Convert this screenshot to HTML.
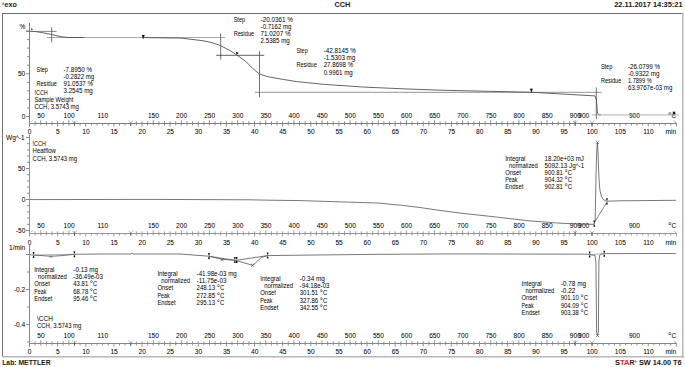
<!DOCTYPE html>
<html><head><meta charset="utf-8"><style>
html,body{margin:0;padding:0;background:#fff;}
svg{display:block;}
text{font-family:"Liberation Sans", sans-serif;}
</style></head><body>
<svg width="685" height="367" viewBox="0 0 685 367">
<rect width="685" height="367" fill="#fff"/>
<text x="1.90" y="5.70" font-size="4.6" text-anchor="start" font-weight="bold" fill="#1a1a1a" textLength="2.20" lengthAdjust="spacingAndGlyphs">^</text>
<text x="4.60" y="7.00" font-size="6.6" text-anchor="start" font-weight="bold" fill="#1a1a1a" textLength="12.40" lengthAdjust="spacingAndGlyphs">exo</text>
<text x="334.40" y="6.70" font-size="6.8" text-anchor="start" font-weight="bold" fill="#1a1a1a" textLength="16.00" lengthAdjust="spacingAndGlyphs">CCH</text>
<text x="614.20" y="6.70" font-size="6.8" text-anchor="start" font-weight="bold" fill="#1a1a1a" textLength="68.40" lengthAdjust="spacingAndGlyphs">22.11.2017 14:35:21</text>
<text x="2.20" y="364.70" font-size="6.8" text-anchor="start" font-weight="bold" fill="#1a1a1a" textLength="48.40" lengthAdjust="spacingAndGlyphs">Lab: METTLER</text>
<text x="614.90" y="364.90" font-size="6.8" text-anchor="start" font-weight="bold" fill="#1a1a1a" textLength="5.00" lengthAdjust="spacingAndGlyphs">S</text>
<text x="619.90" y="364.90" font-size="6.8" text-anchor="start" font-weight="bold" fill="#e8202a" textLength="9.60" lengthAdjust="spacingAndGlyphs">TA</text>
<text x="629.50" y="364.90" font-size="6.8" text-anchor="start" font-weight="bold" fill="#1a1a1a" textLength="5.00" lengthAdjust="spacingAndGlyphs">R</text>
<circle cx="635.6" cy="361.4" r="1.0" fill="#f03a40"/>
<text x="639.00" y="364.90" font-size="6.8" text-anchor="start" font-weight="bold" fill="#1a1a1a" textLength="42.60" lengthAdjust="spacingAndGlyphs">SW 14.00 T6</text>
<line x1="2.00" y1="13.50" x2="683.00" y2="13.50" stroke="#707070" stroke-width="1"/>
<line x1="2.50" y1="13.00" x2="2.50" y2="357.00" stroke="#707070" stroke-width="1"/>
<line x1="682.75" y1="13.00" x2="682.75" y2="358.00" stroke="#b8b8b8" stroke-width="1.5"/>
<line x1="2.00" y1="356.75" x2="684.00" y2="356.75" stroke="#b8b8b8" stroke-width="1.5"/>
<line x1="29.50" y1="23.00" x2="29.50" y2="126.70" stroke="#808080" stroke-width="1"/>
<line x1="29.50" y1="123.50" x2="676.50" y2="123.50" stroke="#808080" stroke-width="1"/>
<line x1="674.00" y1="120.50" x2="676.50" y2="123.50" stroke="#808080" stroke-width="0.8"/>
<line x1="31.00" y1="122.00" x2="33.00" y2="120.50" stroke="#999" stroke-width="0.6"/>
<line x1="35.12" y1="123.50" x2="35.12" y2="125.50" stroke="#808080" stroke-width="0.9"/>
<line x1="40.75" y1="123.50" x2="40.75" y2="125.50" stroke="#808080" stroke-width="0.9"/>
<line x1="46.38" y1="123.50" x2="46.38" y2="125.50" stroke="#808080" stroke-width="0.9"/>
<line x1="52.00" y1="123.50" x2="52.00" y2="125.50" stroke="#808080" stroke-width="0.9"/>
<line x1="57.62" y1="123.50" x2="57.62" y2="126.50" stroke="#808080" stroke-width="0.9"/>
<line x1="63.25" y1="123.50" x2="63.25" y2="125.50" stroke="#808080" stroke-width="0.9"/>
<line x1="68.88" y1="123.50" x2="68.88" y2="125.50" stroke="#808080" stroke-width="0.9"/>
<line x1="74.50" y1="123.50" x2="74.50" y2="125.50" stroke="#808080" stroke-width="0.9"/>
<line x1="80.12" y1="123.50" x2="80.12" y2="125.50" stroke="#808080" stroke-width="0.9"/>
<line x1="85.75" y1="123.50" x2="85.75" y2="126.50" stroke="#808080" stroke-width="0.9"/>
<line x1="91.38" y1="123.50" x2="91.38" y2="125.50" stroke="#808080" stroke-width="0.9"/>
<line x1="97.00" y1="123.50" x2="97.00" y2="125.50" stroke="#808080" stroke-width="0.9"/>
<line x1="102.62" y1="123.50" x2="102.62" y2="125.50" stroke="#808080" stroke-width="0.9"/>
<line x1="108.25" y1="123.50" x2="108.25" y2="125.50" stroke="#808080" stroke-width="0.9"/>
<line x1="113.88" y1="123.50" x2="113.88" y2="126.50" stroke="#808080" stroke-width="0.9"/>
<line x1="119.50" y1="123.50" x2="119.50" y2="125.50" stroke="#808080" stroke-width="0.9"/>
<line x1="125.12" y1="123.50" x2="125.12" y2="125.50" stroke="#808080" stroke-width="0.9"/>
<line x1="130.75" y1="123.50" x2="130.75" y2="125.50" stroke="#808080" stroke-width="0.9"/>
<line x1="136.38" y1="123.50" x2="136.38" y2="125.50" stroke="#808080" stroke-width="0.9"/>
<line x1="142.00" y1="123.50" x2="142.00" y2="126.50" stroke="#808080" stroke-width="0.9"/>
<line x1="147.62" y1="123.50" x2="147.62" y2="125.50" stroke="#808080" stroke-width="0.9"/>
<line x1="153.25" y1="123.50" x2="153.25" y2="125.50" stroke="#808080" stroke-width="0.9"/>
<line x1="158.88" y1="123.50" x2="158.88" y2="125.50" stroke="#808080" stroke-width="0.9"/>
<line x1="164.50" y1="123.50" x2="164.50" y2="125.50" stroke="#808080" stroke-width="0.9"/>
<line x1="170.12" y1="123.50" x2="170.12" y2="126.50" stroke="#808080" stroke-width="0.9"/>
<line x1="175.75" y1="123.50" x2="175.75" y2="125.50" stroke="#808080" stroke-width="0.9"/>
<line x1="181.38" y1="123.50" x2="181.38" y2="125.50" stroke="#808080" stroke-width="0.9"/>
<line x1="187.00" y1="123.50" x2="187.00" y2="125.50" stroke="#808080" stroke-width="0.9"/>
<line x1="192.62" y1="123.50" x2="192.62" y2="125.50" stroke="#808080" stroke-width="0.9"/>
<line x1="198.25" y1="123.50" x2="198.25" y2="126.50" stroke="#808080" stroke-width="0.9"/>
<line x1="203.88" y1="123.50" x2="203.88" y2="125.50" stroke="#808080" stroke-width="0.9"/>
<line x1="209.50" y1="123.50" x2="209.50" y2="125.50" stroke="#808080" stroke-width="0.9"/>
<line x1="215.12" y1="123.50" x2="215.12" y2="125.50" stroke="#808080" stroke-width="0.9"/>
<line x1="220.75" y1="123.50" x2="220.75" y2="125.50" stroke="#808080" stroke-width="0.9"/>
<line x1="226.38" y1="123.50" x2="226.38" y2="126.50" stroke="#808080" stroke-width="0.9"/>
<line x1="232.00" y1="123.50" x2="232.00" y2="125.50" stroke="#808080" stroke-width="0.9"/>
<line x1="237.62" y1="123.50" x2="237.62" y2="125.50" stroke="#808080" stroke-width="0.9"/>
<line x1="243.25" y1="123.50" x2="243.25" y2="125.50" stroke="#808080" stroke-width="0.9"/>
<line x1="248.88" y1="123.50" x2="248.88" y2="125.50" stroke="#808080" stroke-width="0.9"/>
<line x1="254.50" y1="123.50" x2="254.50" y2="126.50" stroke="#808080" stroke-width="0.9"/>
<line x1="260.12" y1="123.50" x2="260.12" y2="125.50" stroke="#808080" stroke-width="0.9"/>
<line x1="265.75" y1="123.50" x2="265.75" y2="125.50" stroke="#808080" stroke-width="0.9"/>
<line x1="271.38" y1="123.50" x2="271.38" y2="125.50" stroke="#808080" stroke-width="0.9"/>
<line x1="277.00" y1="123.50" x2="277.00" y2="125.50" stroke="#808080" stroke-width="0.9"/>
<line x1="282.62" y1="123.50" x2="282.62" y2="126.50" stroke="#808080" stroke-width="0.9"/>
<line x1="288.25" y1="123.50" x2="288.25" y2="125.50" stroke="#808080" stroke-width="0.9"/>
<line x1="293.88" y1="123.50" x2="293.88" y2="125.50" stroke="#808080" stroke-width="0.9"/>
<line x1="299.50" y1="123.50" x2="299.50" y2="125.50" stroke="#808080" stroke-width="0.9"/>
<line x1="305.12" y1="123.50" x2="305.12" y2="125.50" stroke="#808080" stroke-width="0.9"/>
<line x1="310.75" y1="123.50" x2="310.75" y2="126.50" stroke="#808080" stroke-width="0.9"/>
<line x1="316.38" y1="123.50" x2="316.38" y2="125.50" stroke="#808080" stroke-width="0.9"/>
<line x1="322.00" y1="123.50" x2="322.00" y2="125.50" stroke="#808080" stroke-width="0.9"/>
<line x1="327.62" y1="123.50" x2="327.62" y2="125.50" stroke="#808080" stroke-width="0.9"/>
<line x1="333.25" y1="123.50" x2="333.25" y2="125.50" stroke="#808080" stroke-width="0.9"/>
<line x1="338.88" y1="123.50" x2="338.88" y2="126.50" stroke="#808080" stroke-width="0.9"/>
<line x1="344.50" y1="123.50" x2="344.50" y2="125.50" stroke="#808080" stroke-width="0.9"/>
<line x1="350.12" y1="123.50" x2="350.12" y2="125.50" stroke="#808080" stroke-width="0.9"/>
<line x1="355.75" y1="123.50" x2="355.75" y2="125.50" stroke="#808080" stroke-width="0.9"/>
<line x1="361.38" y1="123.50" x2="361.38" y2="125.50" stroke="#808080" stroke-width="0.9"/>
<line x1="367.00" y1="123.50" x2="367.00" y2="126.50" stroke="#808080" stroke-width="0.9"/>
<line x1="372.62" y1="123.50" x2="372.62" y2="125.50" stroke="#808080" stroke-width="0.9"/>
<line x1="378.25" y1="123.50" x2="378.25" y2="125.50" stroke="#808080" stroke-width="0.9"/>
<line x1="383.88" y1="123.50" x2="383.88" y2="125.50" stroke="#808080" stroke-width="0.9"/>
<line x1="389.50" y1="123.50" x2="389.50" y2="125.50" stroke="#808080" stroke-width="0.9"/>
<line x1="395.12" y1="123.50" x2="395.12" y2="126.50" stroke="#808080" stroke-width="0.9"/>
<line x1="400.75" y1="123.50" x2="400.75" y2="125.50" stroke="#808080" stroke-width="0.9"/>
<line x1="406.38" y1="123.50" x2="406.38" y2="125.50" stroke="#808080" stroke-width="0.9"/>
<line x1="412.00" y1="123.50" x2="412.00" y2="125.50" stroke="#808080" stroke-width="0.9"/>
<line x1="417.62" y1="123.50" x2="417.62" y2="125.50" stroke="#808080" stroke-width="0.9"/>
<line x1="423.25" y1="123.50" x2="423.25" y2="126.50" stroke="#808080" stroke-width="0.9"/>
<line x1="428.88" y1="123.50" x2="428.88" y2="125.50" stroke="#808080" stroke-width="0.9"/>
<line x1="434.50" y1="123.50" x2="434.50" y2="125.50" stroke="#808080" stroke-width="0.9"/>
<line x1="440.12" y1="123.50" x2="440.12" y2="125.50" stroke="#808080" stroke-width="0.9"/>
<line x1="445.75" y1="123.50" x2="445.75" y2="125.50" stroke="#808080" stroke-width="0.9"/>
<line x1="451.38" y1="123.50" x2="451.38" y2="126.50" stroke="#808080" stroke-width="0.9"/>
<line x1="457.00" y1="123.50" x2="457.00" y2="125.50" stroke="#808080" stroke-width="0.9"/>
<line x1="462.62" y1="123.50" x2="462.62" y2="125.50" stroke="#808080" stroke-width="0.9"/>
<line x1="468.25" y1="123.50" x2="468.25" y2="125.50" stroke="#808080" stroke-width="0.9"/>
<line x1="473.88" y1="123.50" x2="473.88" y2="125.50" stroke="#808080" stroke-width="0.9"/>
<line x1="479.50" y1="123.50" x2="479.50" y2="126.50" stroke="#808080" stroke-width="0.9"/>
<line x1="485.12" y1="123.50" x2="485.12" y2="125.50" stroke="#808080" stroke-width="0.9"/>
<line x1="490.75" y1="123.50" x2="490.75" y2="125.50" stroke="#808080" stroke-width="0.9"/>
<line x1="496.38" y1="123.50" x2="496.38" y2="125.50" stroke="#808080" stroke-width="0.9"/>
<line x1="502.00" y1="123.50" x2="502.00" y2="125.50" stroke="#808080" stroke-width="0.9"/>
<line x1="507.62" y1="123.50" x2="507.62" y2="126.50" stroke="#808080" stroke-width="0.9"/>
<line x1="513.25" y1="123.50" x2="513.25" y2="125.50" stroke="#808080" stroke-width="0.9"/>
<line x1="518.88" y1="123.50" x2="518.88" y2="125.50" stroke="#808080" stroke-width="0.9"/>
<line x1="524.50" y1="123.50" x2="524.50" y2="125.50" stroke="#808080" stroke-width="0.9"/>
<line x1="530.12" y1="123.50" x2="530.12" y2="125.50" stroke="#808080" stroke-width="0.9"/>
<line x1="535.75" y1="123.50" x2="535.75" y2="126.50" stroke="#808080" stroke-width="0.9"/>
<line x1="541.38" y1="123.50" x2="541.38" y2="125.50" stroke="#808080" stroke-width="0.9"/>
<line x1="547.00" y1="123.50" x2="547.00" y2="125.50" stroke="#808080" stroke-width="0.9"/>
<line x1="552.62" y1="123.50" x2="552.62" y2="125.50" stroke="#808080" stroke-width="0.9"/>
<line x1="558.25" y1="123.50" x2="558.25" y2="125.50" stroke="#808080" stroke-width="0.9"/>
<line x1="563.88" y1="123.50" x2="563.88" y2="126.50" stroke="#808080" stroke-width="0.9"/>
<line x1="569.50" y1="123.50" x2="569.50" y2="125.50" stroke="#808080" stroke-width="0.9"/>
<line x1="575.12" y1="123.50" x2="575.12" y2="125.50" stroke="#808080" stroke-width="0.9"/>
<line x1="580.75" y1="123.50" x2="580.75" y2="125.50" stroke="#808080" stroke-width="0.9"/>
<line x1="586.38" y1="123.50" x2="586.38" y2="125.50" stroke="#808080" stroke-width="0.9"/>
<line x1="592.00" y1="123.50" x2="592.00" y2="126.50" stroke="#808080" stroke-width="0.9"/>
<line x1="597.62" y1="123.50" x2="597.62" y2="125.50" stroke="#808080" stroke-width="0.9"/>
<line x1="603.25" y1="123.50" x2="603.25" y2="125.50" stroke="#808080" stroke-width="0.9"/>
<line x1="608.88" y1="123.50" x2="608.88" y2="125.50" stroke="#808080" stroke-width="0.9"/>
<line x1="614.50" y1="123.50" x2="614.50" y2="125.50" stroke="#808080" stroke-width="0.9"/>
<line x1="620.12" y1="123.50" x2="620.12" y2="126.50" stroke="#808080" stroke-width="0.9"/>
<line x1="625.75" y1="123.50" x2="625.75" y2="125.50" stroke="#808080" stroke-width="0.9"/>
<line x1="631.38" y1="123.50" x2="631.38" y2="125.50" stroke="#808080" stroke-width="0.9"/>
<line x1="637.00" y1="123.50" x2="637.00" y2="125.50" stroke="#808080" stroke-width="0.9"/>
<line x1="642.62" y1="123.50" x2="642.62" y2="125.50" stroke="#808080" stroke-width="0.9"/>
<line x1="648.25" y1="123.50" x2="648.25" y2="126.50" stroke="#808080" stroke-width="0.9"/>
<line x1="653.88" y1="123.50" x2="653.88" y2="125.50" stroke="#808080" stroke-width="0.9"/>
<line x1="659.50" y1="123.50" x2="659.50" y2="125.50" stroke="#808080" stroke-width="0.9"/>
<line x1="665.12" y1="123.50" x2="665.12" y2="125.50" stroke="#808080" stroke-width="0.9"/>
<line x1="670.75" y1="123.50" x2="670.75" y2="125.50" stroke="#808080" stroke-width="0.9"/>
<line x1="676.38" y1="123.50" x2="676.38" y2="126.50" stroke="#808080" stroke-width="0.9"/>
<line x1="35.12" y1="121.30" x2="35.12" y2="123.50" stroke="#808080" stroke-width="0.9"/>
<line x1="40.75" y1="120.30" x2="40.75" y2="123.50" stroke="#808080" stroke-width="0.9"/>
<line x1="46.38" y1="121.30" x2="46.38" y2="123.50" stroke="#808080" stroke-width="0.9"/>
<line x1="52.00" y1="121.30" x2="52.00" y2="123.50" stroke="#808080" stroke-width="0.9"/>
<line x1="57.62" y1="121.30" x2="57.62" y2="123.50" stroke="#808080" stroke-width="0.9"/>
<line x1="63.25" y1="121.30" x2="63.25" y2="123.50" stroke="#808080" stroke-width="0.9"/>
<line x1="68.88" y1="120.30" x2="68.88" y2="123.50" stroke="#808080" stroke-width="0.9"/>
<line x1="74.50" y1="121.30" x2="74.50" y2="123.50" stroke="#808080" stroke-width="0.9"/>
<line x1="136.38" y1="121.30" x2="136.38" y2="123.50" stroke="#808080" stroke-width="0.9"/>
<line x1="142.00" y1="121.30" x2="142.00" y2="123.50" stroke="#808080" stroke-width="0.9"/>
<line x1="147.62" y1="121.30" x2="147.62" y2="123.50" stroke="#808080" stroke-width="0.9"/>
<line x1="153.25" y1="120.30" x2="153.25" y2="123.50" stroke="#808080" stroke-width="0.9"/>
<line x1="158.88" y1="121.30" x2="158.88" y2="123.50" stroke="#808080" stroke-width="0.9"/>
<line x1="164.50" y1="121.30" x2="164.50" y2="123.50" stroke="#808080" stroke-width="0.9"/>
<line x1="170.12" y1="121.30" x2="170.12" y2="123.50" stroke="#808080" stroke-width="0.9"/>
<line x1="175.75" y1="121.30" x2="175.75" y2="123.50" stroke="#808080" stroke-width="0.9"/>
<line x1="181.38" y1="120.30" x2="181.38" y2="123.50" stroke="#808080" stroke-width="0.9"/>
<line x1="187.00" y1="121.30" x2="187.00" y2="123.50" stroke="#808080" stroke-width="0.9"/>
<line x1="192.62" y1="121.30" x2="192.62" y2="123.50" stroke="#808080" stroke-width="0.9"/>
<line x1="198.25" y1="121.30" x2="198.25" y2="123.50" stroke="#808080" stroke-width="0.9"/>
<line x1="203.88" y1="121.30" x2="203.88" y2="123.50" stroke="#808080" stroke-width="0.9"/>
<line x1="209.50" y1="120.30" x2="209.50" y2="123.50" stroke="#808080" stroke-width="0.9"/>
<line x1="215.12" y1="121.30" x2="215.12" y2="123.50" stroke="#808080" stroke-width="0.9"/>
<line x1="220.75" y1="121.30" x2="220.75" y2="123.50" stroke="#808080" stroke-width="0.9"/>
<line x1="226.38" y1="121.30" x2="226.38" y2="123.50" stroke="#808080" stroke-width="0.9"/>
<line x1="232.00" y1="121.30" x2="232.00" y2="123.50" stroke="#808080" stroke-width="0.9"/>
<line x1="237.62" y1="120.30" x2="237.62" y2="123.50" stroke="#808080" stroke-width="0.9"/>
<line x1="243.25" y1="121.30" x2="243.25" y2="123.50" stroke="#808080" stroke-width="0.9"/>
<line x1="248.88" y1="121.30" x2="248.88" y2="123.50" stroke="#808080" stroke-width="0.9"/>
<line x1="254.50" y1="121.30" x2="254.50" y2="123.50" stroke="#808080" stroke-width="0.9"/>
<line x1="260.12" y1="121.30" x2="260.12" y2="123.50" stroke="#808080" stroke-width="0.9"/>
<line x1="265.75" y1="120.30" x2="265.75" y2="123.50" stroke="#808080" stroke-width="0.9"/>
<line x1="271.38" y1="121.30" x2="271.38" y2="123.50" stroke="#808080" stroke-width="0.9"/>
<line x1="277.00" y1="121.30" x2="277.00" y2="123.50" stroke="#808080" stroke-width="0.9"/>
<line x1="282.62" y1="121.30" x2="282.62" y2="123.50" stroke="#808080" stroke-width="0.9"/>
<line x1="288.25" y1="121.30" x2="288.25" y2="123.50" stroke="#808080" stroke-width="0.9"/>
<line x1="293.88" y1="120.30" x2="293.88" y2="123.50" stroke="#808080" stroke-width="0.9"/>
<line x1="299.50" y1="121.30" x2="299.50" y2="123.50" stroke="#808080" stroke-width="0.9"/>
<line x1="305.12" y1="121.30" x2="305.12" y2="123.50" stroke="#808080" stroke-width="0.9"/>
<line x1="310.75" y1="121.30" x2="310.75" y2="123.50" stroke="#808080" stroke-width="0.9"/>
<line x1="316.38" y1="121.30" x2="316.38" y2="123.50" stroke="#808080" stroke-width="0.9"/>
<line x1="322.00" y1="120.30" x2="322.00" y2="123.50" stroke="#808080" stroke-width="0.9"/>
<line x1="327.62" y1="121.30" x2="327.62" y2="123.50" stroke="#808080" stroke-width="0.9"/>
<line x1="333.25" y1="121.30" x2="333.25" y2="123.50" stroke="#808080" stroke-width="0.9"/>
<line x1="338.88" y1="121.30" x2="338.88" y2="123.50" stroke="#808080" stroke-width="0.9"/>
<line x1="344.50" y1="121.30" x2="344.50" y2="123.50" stroke="#808080" stroke-width="0.9"/>
<line x1="350.12" y1="120.30" x2="350.12" y2="123.50" stroke="#808080" stroke-width="0.9"/>
<line x1="355.75" y1="121.30" x2="355.75" y2="123.50" stroke="#808080" stroke-width="0.9"/>
<line x1="361.38" y1="121.30" x2="361.38" y2="123.50" stroke="#808080" stroke-width="0.9"/>
<line x1="367.00" y1="121.30" x2="367.00" y2="123.50" stroke="#808080" stroke-width="0.9"/>
<line x1="372.62" y1="121.30" x2="372.62" y2="123.50" stroke="#808080" stroke-width="0.9"/>
<line x1="378.25" y1="120.30" x2="378.25" y2="123.50" stroke="#808080" stroke-width="0.9"/>
<line x1="383.88" y1="121.30" x2="383.88" y2="123.50" stroke="#808080" stroke-width="0.9"/>
<line x1="389.50" y1="121.30" x2="389.50" y2="123.50" stroke="#808080" stroke-width="0.9"/>
<line x1="395.12" y1="121.30" x2="395.12" y2="123.50" stroke="#808080" stroke-width="0.9"/>
<line x1="400.75" y1="121.30" x2="400.75" y2="123.50" stroke="#808080" stroke-width="0.9"/>
<line x1="406.38" y1="120.30" x2="406.38" y2="123.50" stroke="#808080" stroke-width="0.9"/>
<line x1="412.00" y1="121.30" x2="412.00" y2="123.50" stroke="#808080" stroke-width="0.9"/>
<line x1="417.62" y1="121.30" x2="417.62" y2="123.50" stroke="#808080" stroke-width="0.9"/>
<line x1="423.25" y1="121.30" x2="423.25" y2="123.50" stroke="#808080" stroke-width="0.9"/>
<line x1="428.88" y1="121.30" x2="428.88" y2="123.50" stroke="#808080" stroke-width="0.9"/>
<line x1="434.50" y1="120.30" x2="434.50" y2="123.50" stroke="#808080" stroke-width="0.9"/>
<line x1="440.12" y1="121.30" x2="440.12" y2="123.50" stroke="#808080" stroke-width="0.9"/>
<line x1="445.75" y1="121.30" x2="445.75" y2="123.50" stroke="#808080" stroke-width="0.9"/>
<line x1="451.38" y1="121.30" x2="451.38" y2="123.50" stroke="#808080" stroke-width="0.9"/>
<line x1="457.00" y1="121.30" x2="457.00" y2="123.50" stroke="#808080" stroke-width="0.9"/>
<line x1="462.62" y1="120.30" x2="462.62" y2="123.50" stroke="#808080" stroke-width="0.9"/>
<line x1="468.25" y1="121.30" x2="468.25" y2="123.50" stroke="#808080" stroke-width="0.9"/>
<line x1="473.88" y1="121.30" x2="473.88" y2="123.50" stroke="#808080" stroke-width="0.9"/>
<line x1="479.50" y1="121.30" x2="479.50" y2="123.50" stroke="#808080" stroke-width="0.9"/>
<line x1="485.12" y1="121.30" x2="485.12" y2="123.50" stroke="#808080" stroke-width="0.9"/>
<line x1="490.75" y1="120.30" x2="490.75" y2="123.50" stroke="#808080" stroke-width="0.9"/>
<line x1="496.38" y1="121.30" x2="496.38" y2="123.50" stroke="#808080" stroke-width="0.9"/>
<line x1="502.00" y1="121.30" x2="502.00" y2="123.50" stroke="#808080" stroke-width="0.9"/>
<line x1="507.62" y1="121.30" x2="507.62" y2="123.50" stroke="#808080" stroke-width="0.9"/>
<line x1="513.25" y1="121.30" x2="513.25" y2="123.50" stroke="#808080" stroke-width="0.9"/>
<line x1="518.88" y1="120.30" x2="518.88" y2="123.50" stroke="#808080" stroke-width="0.9"/>
<line x1="524.50" y1="121.30" x2="524.50" y2="123.50" stroke="#808080" stroke-width="0.9"/>
<line x1="530.12" y1="121.30" x2="530.12" y2="123.50" stroke="#808080" stroke-width="0.9"/>
<line x1="535.75" y1="121.30" x2="535.75" y2="123.50" stroke="#808080" stroke-width="0.9"/>
<line x1="541.38" y1="121.30" x2="541.38" y2="123.50" stroke="#808080" stroke-width="0.9"/>
<line x1="547.00" y1="120.30" x2="547.00" y2="123.50" stroke="#808080" stroke-width="0.9"/>
<line x1="552.62" y1="121.30" x2="552.62" y2="123.50" stroke="#808080" stroke-width="0.9"/>
<line x1="558.25" y1="121.30" x2="558.25" y2="123.50" stroke="#808080" stroke-width="0.9"/>
<line x1="563.88" y1="121.30" x2="563.88" y2="123.50" stroke="#808080" stroke-width="0.9"/>
<line x1="569.50" y1="121.30" x2="569.50" y2="123.50" stroke="#808080" stroke-width="0.9"/>
<line x1="575.12" y1="120.30" x2="575.12" y2="123.50" stroke="#808080" stroke-width="0.9"/>
<polyline points="72.10,120.60 74.50,122.90 76.90,120.60" fill="none" stroke="#888" stroke-width="0.6" stroke-linejoin="round"/>
<line x1="74.50" y1="122.50" x2="74.50" y2="125.80" stroke="#555" stroke-width="0.9"/>
<polyline points="128.35,120.60 130.75,122.90 133.15,120.60" fill="none" stroke="#888" stroke-width="0.6" stroke-linejoin="round"/>
<line x1="130.75" y1="122.50" x2="130.75" y2="125.80" stroke="#555" stroke-width="0.9"/>
<polyline points="572.73,120.60 575.12,122.90 577.52,120.60" fill="none" stroke="#888" stroke-width="0.6" stroke-linejoin="round"/>
<line x1="575.12" y1="122.50" x2="575.12" y2="125.80" stroke="#555" stroke-width="0.9"/>
<polyline points="589.60,120.60 592.00,122.90 594.40,120.60" fill="none" stroke="#888" stroke-width="0.6" stroke-linejoin="round"/>
<line x1="592.00" y1="122.50" x2="592.00" y2="125.80" stroke="#555" stroke-width="0.9"/>
<text x="40.95" y="118.00" font-size="6.6" text-anchor="middle" fill="#000" stroke="#000" stroke-width="0.03">50</text>
<text x="69.08" y="118.00" font-size="6.6" text-anchor="middle" fill="#000" stroke="#000" stroke-width="0.03">100</text>
<text x="102.83" y="118.00" font-size="6.6" text-anchor="middle" fill="#000" stroke="#000" stroke-width="0.03">110</text>
<text x="153.45" y="118.00" font-size="6.6" text-anchor="middle" fill="#000" stroke="#000" stroke-width="0.03">150</text>
<text x="181.57" y="118.00" font-size="6.6" text-anchor="middle" fill="#000" stroke="#000" stroke-width="0.03">200</text>
<text x="209.70" y="118.00" font-size="6.6" text-anchor="middle" fill="#000" stroke="#000" stroke-width="0.03">250</text>
<text x="237.82" y="118.00" font-size="6.6" text-anchor="middle" fill="#000" stroke="#000" stroke-width="0.03">300</text>
<text x="265.95" y="118.00" font-size="6.6" text-anchor="middle" fill="#000" stroke="#000" stroke-width="0.03">350</text>
<text x="294.07" y="118.00" font-size="6.6" text-anchor="middle" fill="#000" stroke="#000" stroke-width="0.03">400</text>
<text x="322.20" y="118.00" font-size="6.6" text-anchor="middle" fill="#000" stroke="#000" stroke-width="0.03">450</text>
<text x="350.32" y="118.00" font-size="6.6" text-anchor="middle" fill="#000" stroke="#000" stroke-width="0.03">500</text>
<text x="378.45" y="118.00" font-size="6.6" text-anchor="middle" fill="#000" stroke="#000" stroke-width="0.03">550</text>
<text x="406.57" y="118.00" font-size="6.6" text-anchor="middle" fill="#000" stroke="#000" stroke-width="0.03">600</text>
<text x="434.70" y="118.00" font-size="6.6" text-anchor="middle" fill="#000" stroke="#000" stroke-width="0.03">650</text>
<text x="462.82" y="118.00" font-size="6.6" text-anchor="middle" fill="#000" stroke="#000" stroke-width="0.03">700</text>
<text x="490.95" y="118.00" font-size="6.6" text-anchor="middle" fill="#000" stroke="#000" stroke-width="0.03">750</text>
<text x="519.08" y="118.00" font-size="6.6" text-anchor="middle" fill="#000" stroke="#000" stroke-width="0.03">800</text>
<text x="547.20" y="118.00" font-size="6.6" text-anchor="middle" fill="#000" stroke="#000" stroke-width="0.03">850</text>
<text x="575.33" y="118.00" font-size="6.6" text-anchor="middle" fill="#000" stroke="#000" stroke-width="0.03">900</text>
<text x="583.76" y="118.00" font-size="6.6" text-anchor="middle" fill="#000" stroke="#000" stroke-width="0.03">900</text>
<text x="634.39" y="118.00" font-size="6.6" text-anchor="middle" fill="#000" stroke="#000" stroke-width="0.03">900</text>
<text x="676.20" y="118.00" font-size="6.6" text-anchor="end" fill="#000" stroke="#000" stroke-width="0.03"><tspan font-size="8.6" dy="1.3">°</tspan><tspan dy="-1.3">C</tspan></text>
<text x="29.70" y="134.00" font-size="6.6" text-anchor="middle" fill="#000" stroke="#000" stroke-width="0.03">0</text>
<text x="57.83" y="134.00" font-size="6.6" text-anchor="middle" fill="#000" stroke="#000" stroke-width="0.03">5</text>
<text x="85.95" y="134.00" font-size="6.6" text-anchor="middle" fill="#000" stroke="#000" stroke-width="0.03">10</text>
<text x="114.08" y="134.00" font-size="6.6" text-anchor="middle" fill="#000" stroke="#000" stroke-width="0.03">15</text>
<text x="142.20" y="134.00" font-size="6.6" text-anchor="middle" fill="#000" stroke="#000" stroke-width="0.03">20</text>
<text x="170.32" y="134.00" font-size="6.6" text-anchor="middle" fill="#000" stroke="#000" stroke-width="0.03">25</text>
<text x="198.45" y="134.00" font-size="6.6" text-anchor="middle" fill="#000" stroke="#000" stroke-width="0.03">30</text>
<text x="226.57" y="134.00" font-size="6.6" text-anchor="middle" fill="#000" stroke="#000" stroke-width="0.03">35</text>
<text x="254.70" y="134.00" font-size="6.6" text-anchor="middle" fill="#000" stroke="#000" stroke-width="0.03">40</text>
<text x="282.82" y="134.00" font-size="6.6" text-anchor="middle" fill="#000" stroke="#000" stroke-width="0.03">45</text>
<text x="310.95" y="134.00" font-size="6.6" text-anchor="middle" fill="#000" stroke="#000" stroke-width="0.03">50</text>
<text x="339.07" y="134.00" font-size="6.6" text-anchor="middle" fill="#000" stroke="#000" stroke-width="0.03">55</text>
<text x="367.20" y="134.00" font-size="6.6" text-anchor="middle" fill="#000" stroke="#000" stroke-width="0.03">60</text>
<text x="395.32" y="134.00" font-size="6.6" text-anchor="middle" fill="#000" stroke="#000" stroke-width="0.03">65</text>
<text x="423.45" y="134.00" font-size="6.6" text-anchor="middle" fill="#000" stroke="#000" stroke-width="0.03">70</text>
<text x="451.57" y="134.00" font-size="6.6" text-anchor="middle" fill="#000" stroke="#000" stroke-width="0.03">75</text>
<text x="479.70" y="134.00" font-size="6.6" text-anchor="middle" fill="#000" stroke="#000" stroke-width="0.03">80</text>
<text x="507.82" y="134.00" font-size="6.6" text-anchor="middle" fill="#000" stroke="#000" stroke-width="0.03">85</text>
<text x="535.95" y="134.00" font-size="6.6" text-anchor="middle" fill="#000" stroke="#000" stroke-width="0.03">90</text>
<text x="564.08" y="134.00" font-size="6.6" text-anchor="middle" fill="#000" stroke="#000" stroke-width="0.03">95</text>
<text x="592.20" y="134.00" font-size="6.6" text-anchor="middle" fill="#000" stroke="#000" stroke-width="0.03">100</text>
<text x="620.33" y="134.00" font-size="6.6" text-anchor="middle" fill="#000" stroke="#000" stroke-width="0.03">105</text>
<text x="648.45" y="134.00" font-size="6.6" text-anchor="middle" fill="#000" stroke="#000" stroke-width="0.03">110</text>
<text x="676.20" y="134.00" font-size="6.6" text-anchor="end" fill="#000" stroke="#000" stroke-width="0.03">min</text>
<line x1="29.50" y1="133.50" x2="29.50" y2="236.70" stroke="#959595" stroke-width="1"/>
<line x1="29.50" y1="233.50" x2="676.50" y2="233.50" stroke="#959595" stroke-width="1"/>
<line x1="674.00" y1="230.50" x2="676.50" y2="233.50" stroke="#959595" stroke-width="0.8"/>
<line x1="31.00" y1="232.00" x2="33.00" y2="230.50" stroke="#999" stroke-width="0.6"/>
<line x1="35.12" y1="233.50" x2="35.12" y2="235.50" stroke="#959595" stroke-width="0.9"/>
<line x1="40.75" y1="233.50" x2="40.75" y2="235.50" stroke="#959595" stroke-width="0.9"/>
<line x1="46.38" y1="233.50" x2="46.38" y2="235.50" stroke="#959595" stroke-width="0.9"/>
<line x1="52.00" y1="233.50" x2="52.00" y2="235.50" stroke="#959595" stroke-width="0.9"/>
<line x1="57.62" y1="233.50" x2="57.62" y2="236.50" stroke="#959595" stroke-width="0.9"/>
<line x1="63.25" y1="233.50" x2="63.25" y2="235.50" stroke="#959595" stroke-width="0.9"/>
<line x1="68.88" y1="233.50" x2="68.88" y2="235.50" stroke="#959595" stroke-width="0.9"/>
<line x1="74.50" y1="233.50" x2="74.50" y2="235.50" stroke="#959595" stroke-width="0.9"/>
<line x1="80.12" y1="233.50" x2="80.12" y2="235.50" stroke="#959595" stroke-width="0.9"/>
<line x1="85.75" y1="233.50" x2="85.75" y2="236.50" stroke="#959595" stroke-width="0.9"/>
<line x1="91.38" y1="233.50" x2="91.38" y2="235.50" stroke="#959595" stroke-width="0.9"/>
<line x1="97.00" y1="233.50" x2="97.00" y2="235.50" stroke="#959595" stroke-width="0.9"/>
<line x1="102.62" y1="233.50" x2="102.62" y2="235.50" stroke="#959595" stroke-width="0.9"/>
<line x1="108.25" y1="233.50" x2="108.25" y2="235.50" stroke="#959595" stroke-width="0.9"/>
<line x1="113.88" y1="233.50" x2="113.88" y2="236.50" stroke="#959595" stroke-width="0.9"/>
<line x1="119.50" y1="233.50" x2="119.50" y2="235.50" stroke="#959595" stroke-width="0.9"/>
<line x1="125.12" y1="233.50" x2="125.12" y2="235.50" stroke="#959595" stroke-width="0.9"/>
<line x1="130.75" y1="233.50" x2="130.75" y2="235.50" stroke="#959595" stroke-width="0.9"/>
<line x1="136.38" y1="233.50" x2="136.38" y2="235.50" stroke="#959595" stroke-width="0.9"/>
<line x1="142.00" y1="233.50" x2="142.00" y2="236.50" stroke="#959595" stroke-width="0.9"/>
<line x1="147.62" y1="233.50" x2="147.62" y2="235.50" stroke="#959595" stroke-width="0.9"/>
<line x1="153.25" y1="233.50" x2="153.25" y2="235.50" stroke="#959595" stroke-width="0.9"/>
<line x1="158.88" y1="233.50" x2="158.88" y2="235.50" stroke="#959595" stroke-width="0.9"/>
<line x1="164.50" y1="233.50" x2="164.50" y2="235.50" stroke="#959595" stroke-width="0.9"/>
<line x1="170.12" y1="233.50" x2="170.12" y2="236.50" stroke="#959595" stroke-width="0.9"/>
<line x1="175.75" y1="233.50" x2="175.75" y2="235.50" stroke="#959595" stroke-width="0.9"/>
<line x1="181.38" y1="233.50" x2="181.38" y2="235.50" stroke="#959595" stroke-width="0.9"/>
<line x1="187.00" y1="233.50" x2="187.00" y2="235.50" stroke="#959595" stroke-width="0.9"/>
<line x1="192.62" y1="233.50" x2="192.62" y2="235.50" stroke="#959595" stroke-width="0.9"/>
<line x1="198.25" y1="233.50" x2="198.25" y2="236.50" stroke="#959595" stroke-width="0.9"/>
<line x1="203.88" y1="233.50" x2="203.88" y2="235.50" stroke="#959595" stroke-width="0.9"/>
<line x1="209.50" y1="233.50" x2="209.50" y2="235.50" stroke="#959595" stroke-width="0.9"/>
<line x1="215.12" y1="233.50" x2="215.12" y2="235.50" stroke="#959595" stroke-width="0.9"/>
<line x1="220.75" y1="233.50" x2="220.75" y2="235.50" stroke="#959595" stroke-width="0.9"/>
<line x1="226.38" y1="233.50" x2="226.38" y2="236.50" stroke="#959595" stroke-width="0.9"/>
<line x1="232.00" y1="233.50" x2="232.00" y2="235.50" stroke="#959595" stroke-width="0.9"/>
<line x1="237.62" y1="233.50" x2="237.62" y2="235.50" stroke="#959595" stroke-width="0.9"/>
<line x1="243.25" y1="233.50" x2="243.25" y2="235.50" stroke="#959595" stroke-width="0.9"/>
<line x1="248.88" y1="233.50" x2="248.88" y2="235.50" stroke="#959595" stroke-width="0.9"/>
<line x1="254.50" y1="233.50" x2="254.50" y2="236.50" stroke="#959595" stroke-width="0.9"/>
<line x1="260.12" y1="233.50" x2="260.12" y2="235.50" stroke="#959595" stroke-width="0.9"/>
<line x1="265.75" y1="233.50" x2="265.75" y2="235.50" stroke="#959595" stroke-width="0.9"/>
<line x1="271.38" y1="233.50" x2="271.38" y2="235.50" stroke="#959595" stroke-width="0.9"/>
<line x1="277.00" y1="233.50" x2="277.00" y2="235.50" stroke="#959595" stroke-width="0.9"/>
<line x1="282.62" y1="233.50" x2="282.62" y2="236.50" stroke="#959595" stroke-width="0.9"/>
<line x1="288.25" y1="233.50" x2="288.25" y2="235.50" stroke="#959595" stroke-width="0.9"/>
<line x1="293.88" y1="233.50" x2="293.88" y2="235.50" stroke="#959595" stroke-width="0.9"/>
<line x1="299.50" y1="233.50" x2="299.50" y2="235.50" stroke="#959595" stroke-width="0.9"/>
<line x1="305.12" y1="233.50" x2="305.12" y2="235.50" stroke="#959595" stroke-width="0.9"/>
<line x1="310.75" y1="233.50" x2="310.75" y2="236.50" stroke="#959595" stroke-width="0.9"/>
<line x1="316.38" y1="233.50" x2="316.38" y2="235.50" stroke="#959595" stroke-width="0.9"/>
<line x1="322.00" y1="233.50" x2="322.00" y2="235.50" stroke="#959595" stroke-width="0.9"/>
<line x1="327.62" y1="233.50" x2="327.62" y2="235.50" stroke="#959595" stroke-width="0.9"/>
<line x1="333.25" y1="233.50" x2="333.25" y2="235.50" stroke="#959595" stroke-width="0.9"/>
<line x1="338.88" y1="233.50" x2="338.88" y2="236.50" stroke="#959595" stroke-width="0.9"/>
<line x1="344.50" y1="233.50" x2="344.50" y2="235.50" stroke="#959595" stroke-width="0.9"/>
<line x1="350.12" y1="233.50" x2="350.12" y2="235.50" stroke="#959595" stroke-width="0.9"/>
<line x1="355.75" y1="233.50" x2="355.75" y2="235.50" stroke="#959595" stroke-width="0.9"/>
<line x1="361.38" y1="233.50" x2="361.38" y2="235.50" stroke="#959595" stroke-width="0.9"/>
<line x1="367.00" y1="233.50" x2="367.00" y2="236.50" stroke="#959595" stroke-width="0.9"/>
<line x1="372.62" y1="233.50" x2="372.62" y2="235.50" stroke="#959595" stroke-width="0.9"/>
<line x1="378.25" y1="233.50" x2="378.25" y2="235.50" stroke="#959595" stroke-width="0.9"/>
<line x1="383.88" y1="233.50" x2="383.88" y2="235.50" stroke="#959595" stroke-width="0.9"/>
<line x1="389.50" y1="233.50" x2="389.50" y2="235.50" stroke="#959595" stroke-width="0.9"/>
<line x1="395.12" y1="233.50" x2="395.12" y2="236.50" stroke="#959595" stroke-width="0.9"/>
<line x1="400.75" y1="233.50" x2="400.75" y2="235.50" stroke="#959595" stroke-width="0.9"/>
<line x1="406.38" y1="233.50" x2="406.38" y2="235.50" stroke="#959595" stroke-width="0.9"/>
<line x1="412.00" y1="233.50" x2="412.00" y2="235.50" stroke="#959595" stroke-width="0.9"/>
<line x1="417.62" y1="233.50" x2="417.62" y2="235.50" stroke="#959595" stroke-width="0.9"/>
<line x1="423.25" y1="233.50" x2="423.25" y2="236.50" stroke="#959595" stroke-width="0.9"/>
<line x1="428.88" y1="233.50" x2="428.88" y2="235.50" stroke="#959595" stroke-width="0.9"/>
<line x1="434.50" y1="233.50" x2="434.50" y2="235.50" stroke="#959595" stroke-width="0.9"/>
<line x1="440.12" y1="233.50" x2="440.12" y2="235.50" stroke="#959595" stroke-width="0.9"/>
<line x1="445.75" y1="233.50" x2="445.75" y2="235.50" stroke="#959595" stroke-width="0.9"/>
<line x1="451.38" y1="233.50" x2="451.38" y2="236.50" stroke="#959595" stroke-width="0.9"/>
<line x1="457.00" y1="233.50" x2="457.00" y2="235.50" stroke="#959595" stroke-width="0.9"/>
<line x1="462.62" y1="233.50" x2="462.62" y2="235.50" stroke="#959595" stroke-width="0.9"/>
<line x1="468.25" y1="233.50" x2="468.25" y2="235.50" stroke="#959595" stroke-width="0.9"/>
<line x1="473.88" y1="233.50" x2="473.88" y2="235.50" stroke="#959595" stroke-width="0.9"/>
<line x1="479.50" y1="233.50" x2="479.50" y2="236.50" stroke="#959595" stroke-width="0.9"/>
<line x1="485.12" y1="233.50" x2="485.12" y2="235.50" stroke="#959595" stroke-width="0.9"/>
<line x1="490.75" y1="233.50" x2="490.75" y2="235.50" stroke="#959595" stroke-width="0.9"/>
<line x1="496.38" y1="233.50" x2="496.38" y2="235.50" stroke="#959595" stroke-width="0.9"/>
<line x1="502.00" y1="233.50" x2="502.00" y2="235.50" stroke="#959595" stroke-width="0.9"/>
<line x1="507.62" y1="233.50" x2="507.62" y2="236.50" stroke="#959595" stroke-width="0.9"/>
<line x1="513.25" y1="233.50" x2="513.25" y2="235.50" stroke="#959595" stroke-width="0.9"/>
<line x1="518.88" y1="233.50" x2="518.88" y2="235.50" stroke="#959595" stroke-width="0.9"/>
<line x1="524.50" y1="233.50" x2="524.50" y2="235.50" stroke="#959595" stroke-width="0.9"/>
<line x1="530.12" y1="233.50" x2="530.12" y2="235.50" stroke="#959595" stroke-width="0.9"/>
<line x1="535.75" y1="233.50" x2="535.75" y2="236.50" stroke="#959595" stroke-width="0.9"/>
<line x1="541.38" y1="233.50" x2="541.38" y2="235.50" stroke="#959595" stroke-width="0.9"/>
<line x1="547.00" y1="233.50" x2="547.00" y2="235.50" stroke="#959595" stroke-width="0.9"/>
<line x1="552.62" y1="233.50" x2="552.62" y2="235.50" stroke="#959595" stroke-width="0.9"/>
<line x1="558.25" y1="233.50" x2="558.25" y2="235.50" stroke="#959595" stroke-width="0.9"/>
<line x1="563.88" y1="233.50" x2="563.88" y2="236.50" stroke="#959595" stroke-width="0.9"/>
<line x1="569.50" y1="233.50" x2="569.50" y2="235.50" stroke="#959595" stroke-width="0.9"/>
<line x1="575.12" y1="233.50" x2="575.12" y2="235.50" stroke="#959595" stroke-width="0.9"/>
<line x1="580.75" y1="233.50" x2="580.75" y2="235.50" stroke="#959595" stroke-width="0.9"/>
<line x1="586.38" y1="233.50" x2="586.38" y2="235.50" stroke="#959595" stroke-width="0.9"/>
<line x1="592.00" y1="233.50" x2="592.00" y2="236.50" stroke="#959595" stroke-width="0.9"/>
<line x1="597.62" y1="233.50" x2="597.62" y2="235.50" stroke="#959595" stroke-width="0.9"/>
<line x1="603.25" y1="233.50" x2="603.25" y2="235.50" stroke="#959595" stroke-width="0.9"/>
<line x1="608.88" y1="233.50" x2="608.88" y2="235.50" stroke="#959595" stroke-width="0.9"/>
<line x1="614.50" y1="233.50" x2="614.50" y2="235.50" stroke="#959595" stroke-width="0.9"/>
<line x1="620.12" y1="233.50" x2="620.12" y2="236.50" stroke="#959595" stroke-width="0.9"/>
<line x1="625.75" y1="233.50" x2="625.75" y2="235.50" stroke="#959595" stroke-width="0.9"/>
<line x1="631.38" y1="233.50" x2="631.38" y2="235.50" stroke="#959595" stroke-width="0.9"/>
<line x1="637.00" y1="233.50" x2="637.00" y2="235.50" stroke="#959595" stroke-width="0.9"/>
<line x1="642.62" y1="233.50" x2="642.62" y2="235.50" stroke="#959595" stroke-width="0.9"/>
<line x1="648.25" y1="233.50" x2="648.25" y2="236.50" stroke="#959595" stroke-width="0.9"/>
<line x1="653.88" y1="233.50" x2="653.88" y2="235.50" stroke="#959595" stroke-width="0.9"/>
<line x1="659.50" y1="233.50" x2="659.50" y2="235.50" stroke="#959595" stroke-width="0.9"/>
<line x1="665.12" y1="233.50" x2="665.12" y2="235.50" stroke="#959595" stroke-width="0.9"/>
<line x1="670.75" y1="233.50" x2="670.75" y2="235.50" stroke="#959595" stroke-width="0.9"/>
<line x1="676.38" y1="233.50" x2="676.38" y2="236.50" stroke="#959595" stroke-width="0.9"/>
<line x1="35.12" y1="231.30" x2="35.12" y2="233.50" stroke="#959595" stroke-width="0.9"/>
<line x1="40.75" y1="230.30" x2="40.75" y2="233.50" stroke="#959595" stroke-width="0.9"/>
<line x1="46.38" y1="231.30" x2="46.38" y2="233.50" stroke="#959595" stroke-width="0.9"/>
<line x1="52.00" y1="231.30" x2="52.00" y2="233.50" stroke="#959595" stroke-width="0.9"/>
<line x1="57.62" y1="231.30" x2="57.62" y2="233.50" stroke="#959595" stroke-width="0.9"/>
<line x1="63.25" y1="231.30" x2="63.25" y2="233.50" stroke="#959595" stroke-width="0.9"/>
<line x1="68.88" y1="230.30" x2="68.88" y2="233.50" stroke="#959595" stroke-width="0.9"/>
<line x1="74.50" y1="231.30" x2="74.50" y2="233.50" stroke="#959595" stroke-width="0.9"/>
<line x1="136.38" y1="231.30" x2="136.38" y2="233.50" stroke="#959595" stroke-width="0.9"/>
<line x1="142.00" y1="231.30" x2="142.00" y2="233.50" stroke="#959595" stroke-width="0.9"/>
<line x1="147.62" y1="231.30" x2="147.62" y2="233.50" stroke="#959595" stroke-width="0.9"/>
<line x1="153.25" y1="230.30" x2="153.25" y2="233.50" stroke="#959595" stroke-width="0.9"/>
<line x1="158.88" y1="231.30" x2="158.88" y2="233.50" stroke="#959595" stroke-width="0.9"/>
<line x1="164.50" y1="231.30" x2="164.50" y2="233.50" stroke="#959595" stroke-width="0.9"/>
<line x1="170.12" y1="231.30" x2="170.12" y2="233.50" stroke="#959595" stroke-width="0.9"/>
<line x1="175.75" y1="231.30" x2="175.75" y2="233.50" stroke="#959595" stroke-width="0.9"/>
<line x1="181.38" y1="230.30" x2="181.38" y2="233.50" stroke="#959595" stroke-width="0.9"/>
<line x1="187.00" y1="231.30" x2="187.00" y2="233.50" stroke="#959595" stroke-width="0.9"/>
<line x1="192.62" y1="231.30" x2="192.62" y2="233.50" stroke="#959595" stroke-width="0.9"/>
<line x1="198.25" y1="231.30" x2="198.25" y2="233.50" stroke="#959595" stroke-width="0.9"/>
<line x1="203.88" y1="231.30" x2="203.88" y2="233.50" stroke="#959595" stroke-width="0.9"/>
<line x1="209.50" y1="230.30" x2="209.50" y2="233.50" stroke="#959595" stroke-width="0.9"/>
<line x1="215.12" y1="231.30" x2="215.12" y2="233.50" stroke="#959595" stroke-width="0.9"/>
<line x1="220.75" y1="231.30" x2="220.75" y2="233.50" stroke="#959595" stroke-width="0.9"/>
<line x1="226.38" y1="231.30" x2="226.38" y2="233.50" stroke="#959595" stroke-width="0.9"/>
<line x1="232.00" y1="231.30" x2="232.00" y2="233.50" stroke="#959595" stroke-width="0.9"/>
<line x1="237.62" y1="230.30" x2="237.62" y2="233.50" stroke="#959595" stroke-width="0.9"/>
<line x1="243.25" y1="231.30" x2="243.25" y2="233.50" stroke="#959595" stroke-width="0.9"/>
<line x1="248.88" y1="231.30" x2="248.88" y2="233.50" stroke="#959595" stroke-width="0.9"/>
<line x1="254.50" y1="231.30" x2="254.50" y2="233.50" stroke="#959595" stroke-width="0.9"/>
<line x1="260.12" y1="231.30" x2="260.12" y2="233.50" stroke="#959595" stroke-width="0.9"/>
<line x1="265.75" y1="230.30" x2="265.75" y2="233.50" stroke="#959595" stroke-width="0.9"/>
<line x1="271.38" y1="231.30" x2="271.38" y2="233.50" stroke="#959595" stroke-width="0.9"/>
<line x1="277.00" y1="231.30" x2="277.00" y2="233.50" stroke="#959595" stroke-width="0.9"/>
<line x1="282.62" y1="231.30" x2="282.62" y2="233.50" stroke="#959595" stroke-width="0.9"/>
<line x1="288.25" y1="231.30" x2="288.25" y2="233.50" stroke="#959595" stroke-width="0.9"/>
<line x1="293.88" y1="230.30" x2="293.88" y2="233.50" stroke="#959595" stroke-width="0.9"/>
<line x1="299.50" y1="231.30" x2="299.50" y2="233.50" stroke="#959595" stroke-width="0.9"/>
<line x1="305.12" y1="231.30" x2="305.12" y2="233.50" stroke="#959595" stroke-width="0.9"/>
<line x1="310.75" y1="231.30" x2="310.75" y2="233.50" stroke="#959595" stroke-width="0.9"/>
<line x1="316.38" y1="231.30" x2="316.38" y2="233.50" stroke="#959595" stroke-width="0.9"/>
<line x1="322.00" y1="230.30" x2="322.00" y2="233.50" stroke="#959595" stroke-width="0.9"/>
<line x1="327.62" y1="231.30" x2="327.62" y2="233.50" stroke="#959595" stroke-width="0.9"/>
<line x1="333.25" y1="231.30" x2="333.25" y2="233.50" stroke="#959595" stroke-width="0.9"/>
<line x1="338.88" y1="231.30" x2="338.88" y2="233.50" stroke="#959595" stroke-width="0.9"/>
<line x1="344.50" y1="231.30" x2="344.50" y2="233.50" stroke="#959595" stroke-width="0.9"/>
<line x1="350.12" y1="230.30" x2="350.12" y2="233.50" stroke="#959595" stroke-width="0.9"/>
<line x1="355.75" y1="231.30" x2="355.75" y2="233.50" stroke="#959595" stroke-width="0.9"/>
<line x1="361.38" y1="231.30" x2="361.38" y2="233.50" stroke="#959595" stroke-width="0.9"/>
<line x1="367.00" y1="231.30" x2="367.00" y2="233.50" stroke="#959595" stroke-width="0.9"/>
<line x1="372.62" y1="231.30" x2="372.62" y2="233.50" stroke="#959595" stroke-width="0.9"/>
<line x1="378.25" y1="230.30" x2="378.25" y2="233.50" stroke="#959595" stroke-width="0.9"/>
<line x1="383.88" y1="231.30" x2="383.88" y2="233.50" stroke="#959595" stroke-width="0.9"/>
<line x1="389.50" y1="231.30" x2="389.50" y2="233.50" stroke="#959595" stroke-width="0.9"/>
<line x1="395.12" y1="231.30" x2="395.12" y2="233.50" stroke="#959595" stroke-width="0.9"/>
<line x1="400.75" y1="231.30" x2="400.75" y2="233.50" stroke="#959595" stroke-width="0.9"/>
<line x1="406.38" y1="230.30" x2="406.38" y2="233.50" stroke="#959595" stroke-width="0.9"/>
<line x1="412.00" y1="231.30" x2="412.00" y2="233.50" stroke="#959595" stroke-width="0.9"/>
<line x1="417.62" y1="231.30" x2="417.62" y2="233.50" stroke="#959595" stroke-width="0.9"/>
<line x1="423.25" y1="231.30" x2="423.25" y2="233.50" stroke="#959595" stroke-width="0.9"/>
<line x1="428.88" y1="231.30" x2="428.88" y2="233.50" stroke="#959595" stroke-width="0.9"/>
<line x1="434.50" y1="230.30" x2="434.50" y2="233.50" stroke="#959595" stroke-width="0.9"/>
<line x1="440.12" y1="231.30" x2="440.12" y2="233.50" stroke="#959595" stroke-width="0.9"/>
<line x1="445.75" y1="231.30" x2="445.75" y2="233.50" stroke="#959595" stroke-width="0.9"/>
<line x1="451.38" y1="231.30" x2="451.38" y2="233.50" stroke="#959595" stroke-width="0.9"/>
<line x1="457.00" y1="231.30" x2="457.00" y2="233.50" stroke="#959595" stroke-width="0.9"/>
<line x1="462.62" y1="230.30" x2="462.62" y2="233.50" stroke="#959595" stroke-width="0.9"/>
<line x1="468.25" y1="231.30" x2="468.25" y2="233.50" stroke="#959595" stroke-width="0.9"/>
<line x1="473.88" y1="231.30" x2="473.88" y2="233.50" stroke="#959595" stroke-width="0.9"/>
<line x1="479.50" y1="231.30" x2="479.50" y2="233.50" stroke="#959595" stroke-width="0.9"/>
<line x1="485.12" y1="231.30" x2="485.12" y2="233.50" stroke="#959595" stroke-width="0.9"/>
<line x1="490.75" y1="230.30" x2="490.75" y2="233.50" stroke="#959595" stroke-width="0.9"/>
<line x1="496.38" y1="231.30" x2="496.38" y2="233.50" stroke="#959595" stroke-width="0.9"/>
<line x1="502.00" y1="231.30" x2="502.00" y2="233.50" stroke="#959595" stroke-width="0.9"/>
<line x1="507.62" y1="231.30" x2="507.62" y2="233.50" stroke="#959595" stroke-width="0.9"/>
<line x1="513.25" y1="231.30" x2="513.25" y2="233.50" stroke="#959595" stroke-width="0.9"/>
<line x1="518.88" y1="230.30" x2="518.88" y2="233.50" stroke="#959595" stroke-width="0.9"/>
<line x1="524.50" y1="231.30" x2="524.50" y2="233.50" stroke="#959595" stroke-width="0.9"/>
<line x1="530.12" y1="231.30" x2="530.12" y2="233.50" stroke="#959595" stroke-width="0.9"/>
<line x1="535.75" y1="231.30" x2="535.75" y2="233.50" stroke="#959595" stroke-width="0.9"/>
<line x1="541.38" y1="231.30" x2="541.38" y2="233.50" stroke="#959595" stroke-width="0.9"/>
<line x1="547.00" y1="230.30" x2="547.00" y2="233.50" stroke="#959595" stroke-width="0.9"/>
<line x1="552.62" y1="231.30" x2="552.62" y2="233.50" stroke="#959595" stroke-width="0.9"/>
<line x1="558.25" y1="231.30" x2="558.25" y2="233.50" stroke="#959595" stroke-width="0.9"/>
<line x1="563.88" y1="231.30" x2="563.88" y2="233.50" stroke="#959595" stroke-width="0.9"/>
<line x1="569.50" y1="231.30" x2="569.50" y2="233.50" stroke="#959595" stroke-width="0.9"/>
<line x1="575.12" y1="230.30" x2="575.12" y2="233.50" stroke="#959595" stroke-width="0.9"/>
<polyline points="72.10,230.60 74.50,232.90 76.90,230.60" fill="none" stroke="#888" stroke-width="0.6" stroke-linejoin="round"/>
<line x1="74.50" y1="232.50" x2="74.50" y2="235.80" stroke="#555" stroke-width="0.9"/>
<polyline points="128.35,230.60 130.75,232.90 133.15,230.60" fill="none" stroke="#888" stroke-width="0.6" stroke-linejoin="round"/>
<line x1="130.75" y1="232.50" x2="130.75" y2="235.80" stroke="#555" stroke-width="0.9"/>
<polyline points="572.73,230.60 575.12,232.90 577.52,230.60" fill="none" stroke="#888" stroke-width="0.6" stroke-linejoin="round"/>
<line x1="575.12" y1="232.50" x2="575.12" y2="235.80" stroke="#555" stroke-width="0.9"/>
<polyline points="589.60,230.60 592.00,232.90 594.40,230.60" fill="none" stroke="#888" stroke-width="0.6" stroke-linejoin="round"/>
<line x1="592.00" y1="232.50" x2="592.00" y2="235.80" stroke="#555" stroke-width="0.9"/>
<text x="40.95" y="228.00" font-size="6.6" text-anchor="middle" fill="#000" stroke="#000" stroke-width="0.03">50</text>
<text x="69.08" y="228.00" font-size="6.6" text-anchor="middle" fill="#000" stroke="#000" stroke-width="0.03">100</text>
<text x="102.83" y="228.00" font-size="6.6" text-anchor="middle" fill="#000" stroke="#000" stroke-width="0.03">110</text>
<text x="153.45" y="228.00" font-size="6.6" text-anchor="middle" fill="#000" stroke="#000" stroke-width="0.03">150</text>
<text x="181.57" y="228.00" font-size="6.6" text-anchor="middle" fill="#000" stroke="#000" stroke-width="0.03">200</text>
<text x="209.70" y="228.00" font-size="6.6" text-anchor="middle" fill="#000" stroke="#000" stroke-width="0.03">250</text>
<text x="237.82" y="228.00" font-size="6.6" text-anchor="middle" fill="#000" stroke="#000" stroke-width="0.03">300</text>
<text x="265.95" y="228.00" font-size="6.6" text-anchor="middle" fill="#000" stroke="#000" stroke-width="0.03">350</text>
<text x="294.07" y="228.00" font-size="6.6" text-anchor="middle" fill="#000" stroke="#000" stroke-width="0.03">400</text>
<text x="322.20" y="228.00" font-size="6.6" text-anchor="middle" fill="#000" stroke="#000" stroke-width="0.03">450</text>
<text x="350.32" y="228.00" font-size="6.6" text-anchor="middle" fill="#000" stroke="#000" stroke-width="0.03">500</text>
<text x="378.45" y="228.00" font-size="6.6" text-anchor="middle" fill="#000" stroke="#000" stroke-width="0.03">550</text>
<text x="406.57" y="228.00" font-size="6.6" text-anchor="middle" fill="#000" stroke="#000" stroke-width="0.03">600</text>
<text x="434.70" y="228.00" font-size="6.6" text-anchor="middle" fill="#000" stroke="#000" stroke-width="0.03">650</text>
<text x="462.82" y="228.00" font-size="6.6" text-anchor="middle" fill="#000" stroke="#000" stroke-width="0.03">700</text>
<text x="490.95" y="228.00" font-size="6.6" text-anchor="middle" fill="#000" stroke="#000" stroke-width="0.03">750</text>
<text x="519.08" y="228.00" font-size="6.6" text-anchor="middle" fill="#000" stroke="#000" stroke-width="0.03">800</text>
<text x="547.20" y="228.00" font-size="6.6" text-anchor="middle" fill="#000" stroke="#000" stroke-width="0.03">850</text>
<text x="575.33" y="228.00" font-size="6.6" text-anchor="middle" fill="#000" stroke="#000" stroke-width="0.03">900</text>
<text x="583.76" y="228.00" font-size="6.6" text-anchor="middle" fill="#000" stroke="#000" stroke-width="0.03">900</text>
<text x="634.39" y="228.00" font-size="6.6" text-anchor="middle" fill="#000" stroke="#000" stroke-width="0.03">900</text>
<text x="676.20" y="228.00" font-size="6.6" text-anchor="end" fill="#000" stroke="#000" stroke-width="0.03"><tspan font-size="8.6" dy="1.3">°</tspan><tspan dy="-1.3">C</tspan></text>
<text x="29.70" y="245.00" font-size="6.6" text-anchor="middle" fill="#000" stroke="#000" stroke-width="0.03">0</text>
<text x="57.83" y="245.00" font-size="6.6" text-anchor="middle" fill="#000" stroke="#000" stroke-width="0.03">5</text>
<text x="85.95" y="245.00" font-size="6.6" text-anchor="middle" fill="#000" stroke="#000" stroke-width="0.03">10</text>
<text x="114.08" y="245.00" font-size="6.6" text-anchor="middle" fill="#000" stroke="#000" stroke-width="0.03">15</text>
<text x="142.20" y="245.00" font-size="6.6" text-anchor="middle" fill="#000" stroke="#000" stroke-width="0.03">20</text>
<text x="170.32" y="245.00" font-size="6.6" text-anchor="middle" fill="#000" stroke="#000" stroke-width="0.03">25</text>
<text x="198.45" y="245.00" font-size="6.6" text-anchor="middle" fill="#000" stroke="#000" stroke-width="0.03">30</text>
<text x="226.57" y="245.00" font-size="6.6" text-anchor="middle" fill="#000" stroke="#000" stroke-width="0.03">35</text>
<text x="254.70" y="245.00" font-size="6.6" text-anchor="middle" fill="#000" stroke="#000" stroke-width="0.03">40</text>
<text x="282.82" y="245.00" font-size="6.6" text-anchor="middle" fill="#000" stroke="#000" stroke-width="0.03">45</text>
<text x="310.95" y="245.00" font-size="6.6" text-anchor="middle" fill="#000" stroke="#000" stroke-width="0.03">50</text>
<text x="339.07" y="245.00" font-size="6.6" text-anchor="middle" fill="#000" stroke="#000" stroke-width="0.03">55</text>
<text x="367.20" y="245.00" font-size="6.6" text-anchor="middle" fill="#000" stroke="#000" stroke-width="0.03">60</text>
<text x="395.32" y="245.00" font-size="6.6" text-anchor="middle" fill="#000" stroke="#000" stroke-width="0.03">65</text>
<text x="423.45" y="245.00" font-size="6.6" text-anchor="middle" fill="#000" stroke="#000" stroke-width="0.03">70</text>
<text x="451.57" y="245.00" font-size="6.6" text-anchor="middle" fill="#000" stroke="#000" stroke-width="0.03">75</text>
<text x="479.70" y="245.00" font-size="6.6" text-anchor="middle" fill="#000" stroke="#000" stroke-width="0.03">80</text>
<text x="507.82" y="245.00" font-size="6.6" text-anchor="middle" fill="#000" stroke="#000" stroke-width="0.03">85</text>
<text x="535.95" y="245.00" font-size="6.6" text-anchor="middle" fill="#000" stroke="#000" stroke-width="0.03">90</text>
<text x="564.08" y="245.00" font-size="6.6" text-anchor="middle" fill="#000" stroke="#000" stroke-width="0.03">95</text>
<text x="592.20" y="245.00" font-size="6.6" text-anchor="middle" fill="#000" stroke="#000" stroke-width="0.03">100</text>
<text x="620.33" y="245.00" font-size="6.6" text-anchor="middle" fill="#000" stroke="#000" stroke-width="0.03">105</text>
<text x="648.45" y="245.00" font-size="6.6" text-anchor="middle" fill="#000" stroke="#000" stroke-width="0.03">110</text>
<text x="676.20" y="245.00" font-size="6.6" text-anchor="end" fill="#000" stroke="#000" stroke-width="0.03">min</text>
<line x1="29.50" y1="244.00" x2="29.50" y2="346.70" stroke="#888888" stroke-width="1"/>
<line x1="29.50" y1="343.50" x2="676.50" y2="343.50" stroke="#888888" stroke-width="1"/>
<line x1="674.00" y1="340.50" x2="676.50" y2="343.50" stroke="#888888" stroke-width="0.8"/>
<line x1="31.00" y1="342.00" x2="33.00" y2="340.50" stroke="#999" stroke-width="0.6"/>
<line x1="35.12" y1="343.50" x2="35.12" y2="345.50" stroke="#888888" stroke-width="0.9"/>
<line x1="40.75" y1="343.50" x2="40.75" y2="345.50" stroke="#888888" stroke-width="0.9"/>
<line x1="46.38" y1="343.50" x2="46.38" y2="345.50" stroke="#888888" stroke-width="0.9"/>
<line x1="52.00" y1="343.50" x2="52.00" y2="345.50" stroke="#888888" stroke-width="0.9"/>
<line x1="57.62" y1="343.50" x2="57.62" y2="346.50" stroke="#888888" stroke-width="0.9"/>
<line x1="63.25" y1="343.50" x2="63.25" y2="345.50" stroke="#888888" stroke-width="0.9"/>
<line x1="68.88" y1="343.50" x2="68.88" y2="345.50" stroke="#888888" stroke-width="0.9"/>
<line x1="74.50" y1="343.50" x2="74.50" y2="345.50" stroke="#888888" stroke-width="0.9"/>
<line x1="80.12" y1="343.50" x2="80.12" y2="345.50" stroke="#888888" stroke-width="0.9"/>
<line x1="85.75" y1="343.50" x2="85.75" y2="346.50" stroke="#888888" stroke-width="0.9"/>
<line x1="91.38" y1="343.50" x2="91.38" y2="345.50" stroke="#888888" stroke-width="0.9"/>
<line x1="97.00" y1="343.50" x2="97.00" y2="345.50" stroke="#888888" stroke-width="0.9"/>
<line x1="102.62" y1="343.50" x2="102.62" y2="345.50" stroke="#888888" stroke-width="0.9"/>
<line x1="108.25" y1="343.50" x2="108.25" y2="345.50" stroke="#888888" stroke-width="0.9"/>
<line x1="113.88" y1="343.50" x2="113.88" y2="346.50" stroke="#888888" stroke-width="0.9"/>
<line x1="119.50" y1="343.50" x2="119.50" y2="345.50" stroke="#888888" stroke-width="0.9"/>
<line x1="125.12" y1="343.50" x2="125.12" y2="345.50" stroke="#888888" stroke-width="0.9"/>
<line x1="130.75" y1="343.50" x2="130.75" y2="345.50" stroke="#888888" stroke-width="0.9"/>
<line x1="136.38" y1="343.50" x2="136.38" y2="345.50" stroke="#888888" stroke-width="0.9"/>
<line x1="142.00" y1="343.50" x2="142.00" y2="346.50" stroke="#888888" stroke-width="0.9"/>
<line x1="147.62" y1="343.50" x2="147.62" y2="345.50" stroke="#888888" stroke-width="0.9"/>
<line x1="153.25" y1="343.50" x2="153.25" y2="345.50" stroke="#888888" stroke-width="0.9"/>
<line x1="158.88" y1="343.50" x2="158.88" y2="345.50" stroke="#888888" stroke-width="0.9"/>
<line x1="164.50" y1="343.50" x2="164.50" y2="345.50" stroke="#888888" stroke-width="0.9"/>
<line x1="170.12" y1="343.50" x2="170.12" y2="346.50" stroke="#888888" stroke-width="0.9"/>
<line x1="175.75" y1="343.50" x2="175.75" y2="345.50" stroke="#888888" stroke-width="0.9"/>
<line x1="181.38" y1="343.50" x2="181.38" y2="345.50" stroke="#888888" stroke-width="0.9"/>
<line x1="187.00" y1="343.50" x2="187.00" y2="345.50" stroke="#888888" stroke-width="0.9"/>
<line x1="192.62" y1="343.50" x2="192.62" y2="345.50" stroke="#888888" stroke-width="0.9"/>
<line x1="198.25" y1="343.50" x2="198.25" y2="346.50" stroke="#888888" stroke-width="0.9"/>
<line x1="203.88" y1="343.50" x2="203.88" y2="345.50" stroke="#888888" stroke-width="0.9"/>
<line x1="209.50" y1="343.50" x2="209.50" y2="345.50" stroke="#888888" stroke-width="0.9"/>
<line x1="215.12" y1="343.50" x2="215.12" y2="345.50" stroke="#888888" stroke-width="0.9"/>
<line x1="220.75" y1="343.50" x2="220.75" y2="345.50" stroke="#888888" stroke-width="0.9"/>
<line x1="226.38" y1="343.50" x2="226.38" y2="346.50" stroke="#888888" stroke-width="0.9"/>
<line x1="232.00" y1="343.50" x2="232.00" y2="345.50" stroke="#888888" stroke-width="0.9"/>
<line x1="237.62" y1="343.50" x2="237.62" y2="345.50" stroke="#888888" stroke-width="0.9"/>
<line x1="243.25" y1="343.50" x2="243.25" y2="345.50" stroke="#888888" stroke-width="0.9"/>
<line x1="248.88" y1="343.50" x2="248.88" y2="345.50" stroke="#888888" stroke-width="0.9"/>
<line x1="254.50" y1="343.50" x2="254.50" y2="346.50" stroke="#888888" stroke-width="0.9"/>
<line x1="260.12" y1="343.50" x2="260.12" y2="345.50" stroke="#888888" stroke-width="0.9"/>
<line x1="265.75" y1="343.50" x2="265.75" y2="345.50" stroke="#888888" stroke-width="0.9"/>
<line x1="271.38" y1="343.50" x2="271.38" y2="345.50" stroke="#888888" stroke-width="0.9"/>
<line x1="277.00" y1="343.50" x2="277.00" y2="345.50" stroke="#888888" stroke-width="0.9"/>
<line x1="282.62" y1="343.50" x2="282.62" y2="346.50" stroke="#888888" stroke-width="0.9"/>
<line x1="288.25" y1="343.50" x2="288.25" y2="345.50" stroke="#888888" stroke-width="0.9"/>
<line x1="293.88" y1="343.50" x2="293.88" y2="345.50" stroke="#888888" stroke-width="0.9"/>
<line x1="299.50" y1="343.50" x2="299.50" y2="345.50" stroke="#888888" stroke-width="0.9"/>
<line x1="305.12" y1="343.50" x2="305.12" y2="345.50" stroke="#888888" stroke-width="0.9"/>
<line x1="310.75" y1="343.50" x2="310.75" y2="346.50" stroke="#888888" stroke-width="0.9"/>
<line x1="316.38" y1="343.50" x2="316.38" y2="345.50" stroke="#888888" stroke-width="0.9"/>
<line x1="322.00" y1="343.50" x2="322.00" y2="345.50" stroke="#888888" stroke-width="0.9"/>
<line x1="327.62" y1="343.50" x2="327.62" y2="345.50" stroke="#888888" stroke-width="0.9"/>
<line x1="333.25" y1="343.50" x2="333.25" y2="345.50" stroke="#888888" stroke-width="0.9"/>
<line x1="338.88" y1="343.50" x2="338.88" y2="346.50" stroke="#888888" stroke-width="0.9"/>
<line x1="344.50" y1="343.50" x2="344.50" y2="345.50" stroke="#888888" stroke-width="0.9"/>
<line x1="350.12" y1="343.50" x2="350.12" y2="345.50" stroke="#888888" stroke-width="0.9"/>
<line x1="355.75" y1="343.50" x2="355.75" y2="345.50" stroke="#888888" stroke-width="0.9"/>
<line x1="361.38" y1="343.50" x2="361.38" y2="345.50" stroke="#888888" stroke-width="0.9"/>
<line x1="367.00" y1="343.50" x2="367.00" y2="346.50" stroke="#888888" stroke-width="0.9"/>
<line x1="372.62" y1="343.50" x2="372.62" y2="345.50" stroke="#888888" stroke-width="0.9"/>
<line x1="378.25" y1="343.50" x2="378.25" y2="345.50" stroke="#888888" stroke-width="0.9"/>
<line x1="383.88" y1="343.50" x2="383.88" y2="345.50" stroke="#888888" stroke-width="0.9"/>
<line x1="389.50" y1="343.50" x2="389.50" y2="345.50" stroke="#888888" stroke-width="0.9"/>
<line x1="395.12" y1="343.50" x2="395.12" y2="346.50" stroke="#888888" stroke-width="0.9"/>
<line x1="400.75" y1="343.50" x2="400.75" y2="345.50" stroke="#888888" stroke-width="0.9"/>
<line x1="406.38" y1="343.50" x2="406.38" y2="345.50" stroke="#888888" stroke-width="0.9"/>
<line x1="412.00" y1="343.50" x2="412.00" y2="345.50" stroke="#888888" stroke-width="0.9"/>
<line x1="417.62" y1="343.50" x2="417.62" y2="345.50" stroke="#888888" stroke-width="0.9"/>
<line x1="423.25" y1="343.50" x2="423.25" y2="346.50" stroke="#888888" stroke-width="0.9"/>
<line x1="428.88" y1="343.50" x2="428.88" y2="345.50" stroke="#888888" stroke-width="0.9"/>
<line x1="434.50" y1="343.50" x2="434.50" y2="345.50" stroke="#888888" stroke-width="0.9"/>
<line x1="440.12" y1="343.50" x2="440.12" y2="345.50" stroke="#888888" stroke-width="0.9"/>
<line x1="445.75" y1="343.50" x2="445.75" y2="345.50" stroke="#888888" stroke-width="0.9"/>
<line x1="451.38" y1="343.50" x2="451.38" y2="346.50" stroke="#888888" stroke-width="0.9"/>
<line x1="457.00" y1="343.50" x2="457.00" y2="345.50" stroke="#888888" stroke-width="0.9"/>
<line x1="462.62" y1="343.50" x2="462.62" y2="345.50" stroke="#888888" stroke-width="0.9"/>
<line x1="468.25" y1="343.50" x2="468.25" y2="345.50" stroke="#888888" stroke-width="0.9"/>
<line x1="473.88" y1="343.50" x2="473.88" y2="345.50" stroke="#888888" stroke-width="0.9"/>
<line x1="479.50" y1="343.50" x2="479.50" y2="346.50" stroke="#888888" stroke-width="0.9"/>
<line x1="485.12" y1="343.50" x2="485.12" y2="345.50" stroke="#888888" stroke-width="0.9"/>
<line x1="490.75" y1="343.50" x2="490.75" y2="345.50" stroke="#888888" stroke-width="0.9"/>
<line x1="496.38" y1="343.50" x2="496.38" y2="345.50" stroke="#888888" stroke-width="0.9"/>
<line x1="502.00" y1="343.50" x2="502.00" y2="345.50" stroke="#888888" stroke-width="0.9"/>
<line x1="507.62" y1="343.50" x2="507.62" y2="346.50" stroke="#888888" stroke-width="0.9"/>
<line x1="513.25" y1="343.50" x2="513.25" y2="345.50" stroke="#888888" stroke-width="0.9"/>
<line x1="518.88" y1="343.50" x2="518.88" y2="345.50" stroke="#888888" stroke-width="0.9"/>
<line x1="524.50" y1="343.50" x2="524.50" y2="345.50" stroke="#888888" stroke-width="0.9"/>
<line x1="530.12" y1="343.50" x2="530.12" y2="345.50" stroke="#888888" stroke-width="0.9"/>
<line x1="535.75" y1="343.50" x2="535.75" y2="346.50" stroke="#888888" stroke-width="0.9"/>
<line x1="541.38" y1="343.50" x2="541.38" y2="345.50" stroke="#888888" stroke-width="0.9"/>
<line x1="547.00" y1="343.50" x2="547.00" y2="345.50" stroke="#888888" stroke-width="0.9"/>
<line x1="552.62" y1="343.50" x2="552.62" y2="345.50" stroke="#888888" stroke-width="0.9"/>
<line x1="558.25" y1="343.50" x2="558.25" y2="345.50" stroke="#888888" stroke-width="0.9"/>
<line x1="563.88" y1="343.50" x2="563.88" y2="346.50" stroke="#888888" stroke-width="0.9"/>
<line x1="569.50" y1="343.50" x2="569.50" y2="345.50" stroke="#888888" stroke-width="0.9"/>
<line x1="575.12" y1="343.50" x2="575.12" y2="345.50" stroke="#888888" stroke-width="0.9"/>
<line x1="580.75" y1="343.50" x2="580.75" y2="345.50" stroke="#888888" stroke-width="0.9"/>
<line x1="586.38" y1="343.50" x2="586.38" y2="345.50" stroke="#888888" stroke-width="0.9"/>
<line x1="592.00" y1="343.50" x2="592.00" y2="346.50" stroke="#888888" stroke-width="0.9"/>
<line x1="597.62" y1="343.50" x2="597.62" y2="345.50" stroke="#888888" stroke-width="0.9"/>
<line x1="603.25" y1="343.50" x2="603.25" y2="345.50" stroke="#888888" stroke-width="0.9"/>
<line x1="608.88" y1="343.50" x2="608.88" y2="345.50" stroke="#888888" stroke-width="0.9"/>
<line x1="614.50" y1="343.50" x2="614.50" y2="345.50" stroke="#888888" stroke-width="0.9"/>
<line x1="620.12" y1="343.50" x2="620.12" y2="346.50" stroke="#888888" stroke-width="0.9"/>
<line x1="625.75" y1="343.50" x2="625.75" y2="345.50" stroke="#888888" stroke-width="0.9"/>
<line x1="631.38" y1="343.50" x2="631.38" y2="345.50" stroke="#888888" stroke-width="0.9"/>
<line x1="637.00" y1="343.50" x2="637.00" y2="345.50" stroke="#888888" stroke-width="0.9"/>
<line x1="642.62" y1="343.50" x2="642.62" y2="345.50" stroke="#888888" stroke-width="0.9"/>
<line x1="648.25" y1="343.50" x2="648.25" y2="346.50" stroke="#888888" stroke-width="0.9"/>
<line x1="653.88" y1="343.50" x2="653.88" y2="345.50" stroke="#888888" stroke-width="0.9"/>
<line x1="659.50" y1="343.50" x2="659.50" y2="345.50" stroke="#888888" stroke-width="0.9"/>
<line x1="665.12" y1="343.50" x2="665.12" y2="345.50" stroke="#888888" stroke-width="0.9"/>
<line x1="670.75" y1="343.50" x2="670.75" y2="345.50" stroke="#888888" stroke-width="0.9"/>
<line x1="676.38" y1="343.50" x2="676.38" y2="346.50" stroke="#888888" stroke-width="0.9"/>
<line x1="35.12" y1="341.30" x2="35.12" y2="343.50" stroke="#888888" stroke-width="0.9"/>
<line x1="40.75" y1="340.30" x2="40.75" y2="343.50" stroke="#888888" stroke-width="0.9"/>
<line x1="46.38" y1="341.30" x2="46.38" y2="343.50" stroke="#888888" stroke-width="0.9"/>
<line x1="52.00" y1="341.30" x2="52.00" y2="343.50" stroke="#888888" stroke-width="0.9"/>
<line x1="57.62" y1="341.30" x2="57.62" y2="343.50" stroke="#888888" stroke-width="0.9"/>
<line x1="63.25" y1="341.30" x2="63.25" y2="343.50" stroke="#888888" stroke-width="0.9"/>
<line x1="68.88" y1="340.30" x2="68.88" y2="343.50" stroke="#888888" stroke-width="0.9"/>
<line x1="74.50" y1="341.30" x2="74.50" y2="343.50" stroke="#888888" stroke-width="0.9"/>
<line x1="136.38" y1="341.30" x2="136.38" y2="343.50" stroke="#888888" stroke-width="0.9"/>
<line x1="142.00" y1="341.30" x2="142.00" y2="343.50" stroke="#888888" stroke-width="0.9"/>
<line x1="147.62" y1="341.30" x2="147.62" y2="343.50" stroke="#888888" stroke-width="0.9"/>
<line x1="153.25" y1="340.30" x2="153.25" y2="343.50" stroke="#888888" stroke-width="0.9"/>
<line x1="158.88" y1="341.30" x2="158.88" y2="343.50" stroke="#888888" stroke-width="0.9"/>
<line x1="164.50" y1="341.30" x2="164.50" y2="343.50" stroke="#888888" stroke-width="0.9"/>
<line x1="170.12" y1="341.30" x2="170.12" y2="343.50" stroke="#888888" stroke-width="0.9"/>
<line x1="175.75" y1="341.30" x2="175.75" y2="343.50" stroke="#888888" stroke-width="0.9"/>
<line x1="181.38" y1="340.30" x2="181.38" y2="343.50" stroke="#888888" stroke-width="0.9"/>
<line x1="187.00" y1="341.30" x2="187.00" y2="343.50" stroke="#888888" stroke-width="0.9"/>
<line x1="192.62" y1="341.30" x2="192.62" y2="343.50" stroke="#888888" stroke-width="0.9"/>
<line x1="198.25" y1="341.30" x2="198.25" y2="343.50" stroke="#888888" stroke-width="0.9"/>
<line x1="203.88" y1="341.30" x2="203.88" y2="343.50" stroke="#888888" stroke-width="0.9"/>
<line x1="209.50" y1="340.30" x2="209.50" y2="343.50" stroke="#888888" stroke-width="0.9"/>
<line x1="215.12" y1="341.30" x2="215.12" y2="343.50" stroke="#888888" stroke-width="0.9"/>
<line x1="220.75" y1="341.30" x2="220.75" y2="343.50" stroke="#888888" stroke-width="0.9"/>
<line x1="226.38" y1="341.30" x2="226.38" y2="343.50" stroke="#888888" stroke-width="0.9"/>
<line x1="232.00" y1="341.30" x2="232.00" y2="343.50" stroke="#888888" stroke-width="0.9"/>
<line x1="237.62" y1="340.30" x2="237.62" y2="343.50" stroke="#888888" stroke-width="0.9"/>
<line x1="243.25" y1="341.30" x2="243.25" y2="343.50" stroke="#888888" stroke-width="0.9"/>
<line x1="248.88" y1="341.30" x2="248.88" y2="343.50" stroke="#888888" stroke-width="0.9"/>
<line x1="254.50" y1="341.30" x2="254.50" y2="343.50" stroke="#888888" stroke-width="0.9"/>
<line x1="260.12" y1="341.30" x2="260.12" y2="343.50" stroke="#888888" stroke-width="0.9"/>
<line x1="265.75" y1="340.30" x2="265.75" y2="343.50" stroke="#888888" stroke-width="0.9"/>
<line x1="271.38" y1="341.30" x2="271.38" y2="343.50" stroke="#888888" stroke-width="0.9"/>
<line x1="277.00" y1="341.30" x2="277.00" y2="343.50" stroke="#888888" stroke-width="0.9"/>
<line x1="282.62" y1="341.30" x2="282.62" y2="343.50" stroke="#888888" stroke-width="0.9"/>
<line x1="288.25" y1="341.30" x2="288.25" y2="343.50" stroke="#888888" stroke-width="0.9"/>
<line x1="293.88" y1="340.30" x2="293.88" y2="343.50" stroke="#888888" stroke-width="0.9"/>
<line x1="299.50" y1="341.30" x2="299.50" y2="343.50" stroke="#888888" stroke-width="0.9"/>
<line x1="305.12" y1="341.30" x2="305.12" y2="343.50" stroke="#888888" stroke-width="0.9"/>
<line x1="310.75" y1="341.30" x2="310.75" y2="343.50" stroke="#888888" stroke-width="0.9"/>
<line x1="316.38" y1="341.30" x2="316.38" y2="343.50" stroke="#888888" stroke-width="0.9"/>
<line x1="322.00" y1="340.30" x2="322.00" y2="343.50" stroke="#888888" stroke-width="0.9"/>
<line x1="327.62" y1="341.30" x2="327.62" y2="343.50" stroke="#888888" stroke-width="0.9"/>
<line x1="333.25" y1="341.30" x2="333.25" y2="343.50" stroke="#888888" stroke-width="0.9"/>
<line x1="338.88" y1="341.30" x2="338.88" y2="343.50" stroke="#888888" stroke-width="0.9"/>
<line x1="344.50" y1="341.30" x2="344.50" y2="343.50" stroke="#888888" stroke-width="0.9"/>
<line x1="350.12" y1="340.30" x2="350.12" y2="343.50" stroke="#888888" stroke-width="0.9"/>
<line x1="355.75" y1="341.30" x2="355.75" y2="343.50" stroke="#888888" stroke-width="0.9"/>
<line x1="361.38" y1="341.30" x2="361.38" y2="343.50" stroke="#888888" stroke-width="0.9"/>
<line x1="367.00" y1="341.30" x2="367.00" y2="343.50" stroke="#888888" stroke-width="0.9"/>
<line x1="372.62" y1="341.30" x2="372.62" y2="343.50" stroke="#888888" stroke-width="0.9"/>
<line x1="378.25" y1="340.30" x2="378.25" y2="343.50" stroke="#888888" stroke-width="0.9"/>
<line x1="383.88" y1="341.30" x2="383.88" y2="343.50" stroke="#888888" stroke-width="0.9"/>
<line x1="389.50" y1="341.30" x2="389.50" y2="343.50" stroke="#888888" stroke-width="0.9"/>
<line x1="395.12" y1="341.30" x2="395.12" y2="343.50" stroke="#888888" stroke-width="0.9"/>
<line x1="400.75" y1="341.30" x2="400.75" y2="343.50" stroke="#888888" stroke-width="0.9"/>
<line x1="406.38" y1="340.30" x2="406.38" y2="343.50" stroke="#888888" stroke-width="0.9"/>
<line x1="412.00" y1="341.30" x2="412.00" y2="343.50" stroke="#888888" stroke-width="0.9"/>
<line x1="417.62" y1="341.30" x2="417.62" y2="343.50" stroke="#888888" stroke-width="0.9"/>
<line x1="423.25" y1="341.30" x2="423.25" y2="343.50" stroke="#888888" stroke-width="0.9"/>
<line x1="428.88" y1="341.30" x2="428.88" y2="343.50" stroke="#888888" stroke-width="0.9"/>
<line x1="434.50" y1="340.30" x2="434.50" y2="343.50" stroke="#888888" stroke-width="0.9"/>
<line x1="440.12" y1="341.30" x2="440.12" y2="343.50" stroke="#888888" stroke-width="0.9"/>
<line x1="445.75" y1="341.30" x2="445.75" y2="343.50" stroke="#888888" stroke-width="0.9"/>
<line x1="451.38" y1="341.30" x2="451.38" y2="343.50" stroke="#888888" stroke-width="0.9"/>
<line x1="457.00" y1="341.30" x2="457.00" y2="343.50" stroke="#888888" stroke-width="0.9"/>
<line x1="462.62" y1="340.30" x2="462.62" y2="343.50" stroke="#888888" stroke-width="0.9"/>
<line x1="468.25" y1="341.30" x2="468.25" y2="343.50" stroke="#888888" stroke-width="0.9"/>
<line x1="473.88" y1="341.30" x2="473.88" y2="343.50" stroke="#888888" stroke-width="0.9"/>
<line x1="479.50" y1="341.30" x2="479.50" y2="343.50" stroke="#888888" stroke-width="0.9"/>
<line x1="485.12" y1="341.30" x2="485.12" y2="343.50" stroke="#888888" stroke-width="0.9"/>
<line x1="490.75" y1="340.30" x2="490.75" y2="343.50" stroke="#888888" stroke-width="0.9"/>
<line x1="496.38" y1="341.30" x2="496.38" y2="343.50" stroke="#888888" stroke-width="0.9"/>
<line x1="502.00" y1="341.30" x2="502.00" y2="343.50" stroke="#888888" stroke-width="0.9"/>
<line x1="507.62" y1="341.30" x2="507.62" y2="343.50" stroke="#888888" stroke-width="0.9"/>
<line x1="513.25" y1="341.30" x2="513.25" y2="343.50" stroke="#888888" stroke-width="0.9"/>
<line x1="518.88" y1="340.30" x2="518.88" y2="343.50" stroke="#888888" stroke-width="0.9"/>
<line x1="524.50" y1="341.30" x2="524.50" y2="343.50" stroke="#888888" stroke-width="0.9"/>
<line x1="530.12" y1="341.30" x2="530.12" y2="343.50" stroke="#888888" stroke-width="0.9"/>
<line x1="535.75" y1="341.30" x2="535.75" y2="343.50" stroke="#888888" stroke-width="0.9"/>
<line x1="541.38" y1="341.30" x2="541.38" y2="343.50" stroke="#888888" stroke-width="0.9"/>
<line x1="547.00" y1="340.30" x2="547.00" y2="343.50" stroke="#888888" stroke-width="0.9"/>
<line x1="552.62" y1="341.30" x2="552.62" y2="343.50" stroke="#888888" stroke-width="0.9"/>
<line x1="558.25" y1="341.30" x2="558.25" y2="343.50" stroke="#888888" stroke-width="0.9"/>
<line x1="563.88" y1="341.30" x2="563.88" y2="343.50" stroke="#888888" stroke-width="0.9"/>
<line x1="569.50" y1="341.30" x2="569.50" y2="343.50" stroke="#888888" stroke-width="0.9"/>
<line x1="575.12" y1="340.30" x2="575.12" y2="343.50" stroke="#888888" stroke-width="0.9"/>
<polyline points="72.10,340.60 74.50,342.90 76.90,340.60" fill="none" stroke="#888" stroke-width="0.6" stroke-linejoin="round"/>
<line x1="74.50" y1="342.50" x2="74.50" y2="345.80" stroke="#555" stroke-width="0.9"/>
<polyline points="128.35,340.60 130.75,342.90 133.15,340.60" fill="none" stroke="#888" stroke-width="0.6" stroke-linejoin="round"/>
<line x1="130.75" y1="342.50" x2="130.75" y2="345.80" stroke="#555" stroke-width="0.9"/>
<polyline points="572.73,340.60 575.12,342.90 577.52,340.60" fill="none" stroke="#888" stroke-width="0.6" stroke-linejoin="round"/>
<line x1="575.12" y1="342.50" x2="575.12" y2="345.80" stroke="#555" stroke-width="0.9"/>
<polyline points="589.60,340.60 592.00,342.90 594.40,340.60" fill="none" stroke="#888" stroke-width="0.6" stroke-linejoin="round"/>
<line x1="592.00" y1="342.50" x2="592.00" y2="345.80" stroke="#555" stroke-width="0.9"/>
<text x="40.95" y="338.00" font-size="6.6" text-anchor="middle" fill="#000" stroke="#000" stroke-width="0.03">50</text>
<text x="69.08" y="338.00" font-size="6.6" text-anchor="middle" fill="#000" stroke="#000" stroke-width="0.03">100</text>
<text x="102.83" y="338.00" font-size="6.6" text-anchor="middle" fill="#000" stroke="#000" stroke-width="0.03">110</text>
<text x="153.45" y="338.00" font-size="6.6" text-anchor="middle" fill="#000" stroke="#000" stroke-width="0.03">150</text>
<text x="181.57" y="338.00" font-size="6.6" text-anchor="middle" fill="#000" stroke="#000" stroke-width="0.03">200</text>
<text x="209.70" y="338.00" font-size="6.6" text-anchor="middle" fill="#000" stroke="#000" stroke-width="0.03">250</text>
<text x="237.82" y="338.00" font-size="6.6" text-anchor="middle" fill="#000" stroke="#000" stroke-width="0.03">300</text>
<text x="265.95" y="338.00" font-size="6.6" text-anchor="middle" fill="#000" stroke="#000" stroke-width="0.03">350</text>
<text x="294.07" y="338.00" font-size="6.6" text-anchor="middle" fill="#000" stroke="#000" stroke-width="0.03">400</text>
<text x="322.20" y="338.00" font-size="6.6" text-anchor="middle" fill="#000" stroke="#000" stroke-width="0.03">450</text>
<text x="350.32" y="338.00" font-size="6.6" text-anchor="middle" fill="#000" stroke="#000" stroke-width="0.03">500</text>
<text x="378.45" y="338.00" font-size="6.6" text-anchor="middle" fill="#000" stroke="#000" stroke-width="0.03">550</text>
<text x="406.57" y="338.00" font-size="6.6" text-anchor="middle" fill="#000" stroke="#000" stroke-width="0.03">600</text>
<text x="434.70" y="338.00" font-size="6.6" text-anchor="middle" fill="#000" stroke="#000" stroke-width="0.03">650</text>
<text x="462.82" y="338.00" font-size="6.6" text-anchor="middle" fill="#000" stroke="#000" stroke-width="0.03">700</text>
<text x="490.95" y="338.00" font-size="6.6" text-anchor="middle" fill="#000" stroke="#000" stroke-width="0.03">750</text>
<text x="519.08" y="338.00" font-size="6.6" text-anchor="middle" fill="#000" stroke="#000" stroke-width="0.03">800</text>
<text x="547.20" y="338.00" font-size="6.6" text-anchor="middle" fill="#000" stroke="#000" stroke-width="0.03">850</text>
<text x="575.33" y="338.00" font-size="6.6" text-anchor="middle" fill="#000" stroke="#000" stroke-width="0.03">900</text>
<text x="583.76" y="338.00" font-size="6.6" text-anchor="middle" fill="#000" stroke="#000" stroke-width="0.03">900</text>
<text x="634.39" y="338.00" font-size="6.6" text-anchor="middle" fill="#000" stroke="#000" stroke-width="0.03">900</text>
<text x="676.20" y="338.00" font-size="6.6" text-anchor="end" fill="#000" stroke="#000" stroke-width="0.03"><tspan font-size="8.6" dy="1.3">°</tspan><tspan dy="-1.3">C</tspan></text>
<text x="29.70" y="354.00" font-size="6.6" text-anchor="middle" fill="#000" stroke="#000" stroke-width="0.03">0</text>
<text x="57.83" y="354.00" font-size="6.6" text-anchor="middle" fill="#000" stroke="#000" stroke-width="0.03">5</text>
<text x="85.95" y="354.00" font-size="6.6" text-anchor="middle" fill="#000" stroke="#000" stroke-width="0.03">10</text>
<text x="114.08" y="354.00" font-size="6.6" text-anchor="middle" fill="#000" stroke="#000" stroke-width="0.03">15</text>
<text x="142.20" y="354.00" font-size="6.6" text-anchor="middle" fill="#000" stroke="#000" stroke-width="0.03">20</text>
<text x="170.32" y="354.00" font-size="6.6" text-anchor="middle" fill="#000" stroke="#000" stroke-width="0.03">25</text>
<text x="198.45" y="354.00" font-size="6.6" text-anchor="middle" fill="#000" stroke="#000" stroke-width="0.03">30</text>
<text x="226.57" y="354.00" font-size="6.6" text-anchor="middle" fill="#000" stroke="#000" stroke-width="0.03">35</text>
<text x="254.70" y="354.00" font-size="6.6" text-anchor="middle" fill="#000" stroke="#000" stroke-width="0.03">40</text>
<text x="282.82" y="354.00" font-size="6.6" text-anchor="middle" fill="#000" stroke="#000" stroke-width="0.03">45</text>
<text x="310.95" y="354.00" font-size="6.6" text-anchor="middle" fill="#000" stroke="#000" stroke-width="0.03">50</text>
<text x="339.07" y="354.00" font-size="6.6" text-anchor="middle" fill="#000" stroke="#000" stroke-width="0.03">55</text>
<text x="367.20" y="354.00" font-size="6.6" text-anchor="middle" fill="#000" stroke="#000" stroke-width="0.03">60</text>
<text x="395.32" y="354.00" font-size="6.6" text-anchor="middle" fill="#000" stroke="#000" stroke-width="0.03">65</text>
<text x="423.45" y="354.00" font-size="6.6" text-anchor="middle" fill="#000" stroke="#000" stroke-width="0.03">70</text>
<text x="451.57" y="354.00" font-size="6.6" text-anchor="middle" fill="#000" stroke="#000" stroke-width="0.03">75</text>
<text x="479.70" y="354.00" font-size="6.6" text-anchor="middle" fill="#000" stroke="#000" stroke-width="0.03">80</text>
<text x="507.82" y="354.00" font-size="6.6" text-anchor="middle" fill="#000" stroke="#000" stroke-width="0.03">85</text>
<text x="535.95" y="354.00" font-size="6.6" text-anchor="middle" fill="#000" stroke="#000" stroke-width="0.03">90</text>
<text x="564.08" y="354.00" font-size="6.6" text-anchor="middle" fill="#000" stroke="#000" stroke-width="0.03">95</text>
<text x="592.20" y="354.00" font-size="6.6" text-anchor="middle" fill="#000" stroke="#000" stroke-width="0.03">100</text>
<text x="620.33" y="354.00" font-size="6.6" text-anchor="middle" fill="#000" stroke="#000" stroke-width="0.03">105</text>
<text x="648.45" y="354.00" font-size="6.6" text-anchor="middle" fill="#000" stroke="#000" stroke-width="0.03">110</text>
<text x="676.20" y="354.00" font-size="6.6" text-anchor="end" fill="#000" stroke="#000" stroke-width="0.03">min</text>
<line x1="26.00" y1="116.50" x2="29.50" y2="116.50" stroke="#808080" stroke-width="0.9"/>
<line x1="27.00" y1="107.95" x2="29.50" y2="107.95" stroke="#808080" stroke-width="0.9"/>
<line x1="27.00" y1="99.40" x2="29.50" y2="99.40" stroke="#808080" stroke-width="0.9"/>
<line x1="27.00" y1="90.85" x2="29.50" y2="90.85" stroke="#808080" stroke-width="0.9"/>
<line x1="27.00" y1="82.30" x2="29.50" y2="82.30" stroke="#808080" stroke-width="0.9"/>
<line x1="26.00" y1="73.75" x2="29.50" y2="73.75" stroke="#808080" stroke-width="0.9"/>
<line x1="27.00" y1="65.20" x2="29.50" y2="65.20" stroke="#808080" stroke-width="0.9"/>
<line x1="27.00" y1="56.65" x2="29.50" y2="56.65" stroke="#808080" stroke-width="0.9"/>
<line x1="27.00" y1="48.10" x2="29.50" y2="48.10" stroke="#808080" stroke-width="0.9"/>
<line x1="27.00" y1="39.55" x2="29.50" y2="39.55" stroke="#808080" stroke-width="0.9"/>
<line x1="26.00" y1="31.00" x2="29.50" y2="31.00" stroke="#808080" stroke-width="0.9"/>
<text x="25.30" y="119.00" font-size="6.6" text-anchor="end" fill="#000" stroke="#000" stroke-width="0.03">0</text>
<text x="25.30" y="76.00" font-size="6.6" text-anchor="end" fill="#000" stroke="#000" stroke-width="0.03">50</text>
<text x="25.30" y="29.00" font-size="6.6" text-anchor="end" fill="#000" stroke="#000" stroke-width="0.03">%</text>
<line x1="26.00" y1="230.50" x2="29.50" y2="230.50" stroke="#808080" stroke-width="0.9"/>
<line x1="27.00" y1="224.30" x2="29.50" y2="224.30" stroke="#808080" stroke-width="0.9"/>
<line x1="27.00" y1="218.10" x2="29.50" y2="218.10" stroke="#808080" stroke-width="0.9"/>
<line x1="27.00" y1="211.90" x2="29.50" y2="211.90" stroke="#808080" stroke-width="0.9"/>
<line x1="27.00" y1="205.70" x2="29.50" y2="205.70" stroke="#808080" stroke-width="0.9"/>
<line x1="26.00" y1="199.50" x2="29.50" y2="199.50" stroke="#808080" stroke-width="0.9"/>
<line x1="27.00" y1="193.30" x2="29.50" y2="193.30" stroke="#808080" stroke-width="0.9"/>
<line x1="27.00" y1="187.10" x2="29.50" y2="187.10" stroke="#808080" stroke-width="0.9"/>
<line x1="27.00" y1="180.90" x2="29.50" y2="180.90" stroke="#808080" stroke-width="0.9"/>
<line x1="27.00" y1="174.70" x2="29.50" y2="174.70" stroke="#808080" stroke-width="0.9"/>
<line x1="26.00" y1="168.50" x2="29.50" y2="168.50" stroke="#808080" stroke-width="0.9"/>
<line x1="27.00" y1="162.30" x2="29.50" y2="162.30" stroke="#808080" stroke-width="0.9"/>
<line x1="27.00" y1="156.10" x2="29.50" y2="156.10" stroke="#808080" stroke-width="0.9"/>
<line x1="27.00" y1="149.90" x2="29.50" y2="149.90" stroke="#808080" stroke-width="0.9"/>
<line x1="27.00" y1="143.70" x2="29.50" y2="143.70" stroke="#808080" stroke-width="0.9"/>
<line x1="26.00" y1="137.50" x2="29.50" y2="137.50" stroke="#808080" stroke-width="0.9"/>
<text x="25.30" y="233.00" font-size="6.6" text-anchor="end" fill="#000" stroke="#000" stroke-width="0.03">-50</text>
<text x="25.30" y="202.00" font-size="6.6" text-anchor="end" fill="#000" stroke="#000" stroke-width="0.03">0</text>
<text x="25.30" y="171.00" font-size="6.6" text-anchor="end" fill="#000" stroke="#000" stroke-width="0.03">50</text>
<text x="24.60" y="140.00" font-size="6.6" text-anchor="end" fill="#000" stroke="#000" stroke-width="0.03" textLength="18.60" lengthAdjust="spacingAndGlyphs">Wg^-1</text>
<line x1="26.00" y1="254.50" x2="29.50" y2="254.50" stroke="#808080" stroke-width="0.9"/>
<line x1="27.00" y1="272.00" x2="29.50" y2="272.00" stroke="#808080" stroke-width="0.9"/>
<line x1="26.00" y1="289.50" x2="29.50" y2="289.50" stroke="#808080" stroke-width="0.9"/>
<line x1="27.00" y1="307.00" x2="29.50" y2="307.00" stroke="#808080" stroke-width="0.9"/>
<line x1="26.00" y1="324.50" x2="29.50" y2="324.50" stroke="#808080" stroke-width="0.9"/>
<line x1="27.00" y1="342.00" x2="29.50" y2="342.00" stroke="#808080" stroke-width="0.9"/>
<text x="25.30" y="292.00" font-size="6.6" text-anchor="end" fill="#000" stroke="#000" stroke-width="0.03">-0.2</text>
<text x="25.30" y="327.00" font-size="6.6" text-anchor="end" fill="#000" stroke="#000" stroke-width="0.03">-0.4</text>
<text x="25.20" y="250.00" font-size="6.6" text-anchor="end" fill="#000" stroke="#000" stroke-width="0.03" textLength="16.20" lengthAdjust="spacingAndGlyphs">1/min</text>
<line x1="47.00" y1="37.50" x2="225.30" y2="37.50" stroke="#a8a8a8" stroke-width="1.0"/>
<line x1="254.90" y1="92.30" x2="601.80" y2="92.30" stroke="#8a8a8a" stroke-width="0.9"/>
<polyline points="30.50,31.30 36.00,31.60 44.00,33.00 51.70,34.50 60.00,36.50 67.80,37.50 85.00,37.50 140.00,37.50 150.00,37.70 181.00,38.10 202.00,40.60 212.00,42.60 220.70,45.70 229.00,50.00 236.30,54.60 245.60,61.30 252.80,68.50 259.00,73.70 264.00,75.60 268.40,76.80 280.00,78.90 296.60,81.60 324.30,84.40 366.00,87.20 407.60,89.00 445.00,90.30 531.80,92.30 595.00,95.90 596.50,100.00 597.30,112.00 598.50,114.60 601.00,114.90" fill="none" stroke="#4a4a4a" stroke-width="0.85" stroke-linejoin="round"/>
<line x1="592.00" y1="114.90" x2="678.80" y2="114.90" stroke="#b0b0b0" stroke-width="1.0"/>
<line x1="84.00" y1="37.50" x2="142.30" y2="37.50" stroke="#a8a8a8" stroke-width="1.1"/>
<line x1="26.00" y1="31.40" x2="56.50" y2="31.40" stroke="#6a6a6a" stroke-width="0.8"/>
<line x1="51.70" y1="27.20" x2="51.70" y2="42.40" stroke="#505050" stroke-width="0.8"/>
<line x1="220.70" y1="33.30" x2="220.70" y2="59.60" stroke="#505050" stroke-width="0.8"/>
<line x1="216.20" y1="55.30" x2="264.20" y2="55.30" stroke="#383838" stroke-width="0.8"/>
<line x1="259.50" y1="50.90" x2="259.50" y2="97.50" stroke="#505050" stroke-width="0.8"/>
<line x1="596.30" y1="87.40" x2="596.30" y2="119.30" stroke="#505050" stroke-width="0.8"/>
<path d="M31.3,28.2 L33.0,29.2 L31.3,30.2 Z" fill="#111"/>
<path d="M141.80,35.00 L144.80,35.00 L143.90,37.20 L142.70,37.20 Z" fill="#111"/>
<line x1="143.30" y1="35.00" x2="143.30" y2="38.80" stroke="#111" stroke-width="0.8"/>
<path d="M235.8,51.6 L238.8,53.0 L236.6,54.4 Z" fill="#111"/>
<path d="M529.90,88.80 L532.90,88.80 L532.00,91.00 L530.80,91.00 Z" fill="#111"/>
<line x1="531.40" y1="88.80" x2="531.40" y2="92.60" stroke="#111" stroke-width="0.8"/>
<path d="M672.50,111.80 L675.50,111.80 L674.60,114.00 L673.40,114.00 Z" fill="#111"/>
<line x1="674.00" y1="111.80" x2="674.00" y2="115.60" stroke="#111" stroke-width="0.8"/>
<line x1="595.00" y1="221.50" x2="606.70" y2="202.50" stroke="#555" stroke-width="0.7"/>
<polyline points="30.00,199.60 150.00,199.40 250.00,199.80 270.00,200.20 300.00,200.60 342.00,201.90 378.80,203.10 401.60,205.30 420.00,207.50 436.30,209.90 462.50,213.40 488.80,216.20 515.00,219.20 530.00,220.90 560.00,223.20 586.00,224.30 594.00,224.30 595.20,220.00 595.50,200.00 596.10,172.00 596.70,152.00 597.40,142.40 598.00,152.00 598.50,167.00 599.20,182.00 600.00,190.70 601.50,196.50 603.10,199.40 605.00,200.60 607.30,201.20 620.00,200.80 676.00,200.30" fill="none" stroke="#555" stroke-width="0.8" stroke-linejoin="round"/>
<path d="M595.80,140.80 L599.00,144.00 M599.00,140.80 L595.80,144.00" fill="none" stroke="#555" stroke-width="0.6"/>
<path d="M593.40,220.40 L595.10,220.40 L594.80,222.40 L593.70,222.40 Z M593.70,224.80 L594.80,224.80 L595.10,226.80 L593.40,226.80 Z" fill="#111"/>
<line x1="594.20" y1="222.40" x2="594.20" y2="224.80" stroke="#777" stroke-width="0.5"/>
<path d="M606.10,198.20 L607.80,198.20 L607.50,200.20 L606.40,200.20 Z M606.40,202.60 L607.50,202.60 L607.80,204.60 L606.10,204.60 Z" fill="#111"/>
<line x1="606.90" y1="200.20" x2="606.90" y2="202.60" stroke="#777" stroke-width="0.5"/>
<line x1="33.50" y1="255.00" x2="74.40" y2="254.30" stroke="#999" stroke-width="0.8"/>
<line x1="208.90" y1="256.20" x2="235.70" y2="260.40" stroke="#444" stroke-width="0.7"/>
<line x1="235.70" y1="260.40" x2="267.60" y2="255.60" stroke="#444" stroke-width="0.7"/>
<line x1="589.60" y1="254.60" x2="604.20" y2="253.80" stroke="#999" stroke-width="0.7"/>
<polyline points="30.00,254.20 31.50,255.00 33.50,255.20 42.00,255.60 50.80,256.30 62.00,255.60 74.40,254.30 100.00,254.00 131.00,254.00 132.20,253.20 133.40,254.00 180.00,254.00 208.90,256.20 222.00,259.30 235.70,260.40 244.00,262.80 252.70,265.30 257.00,261.50 261.40,257.40 267.60,255.60 290.00,255.30 370.00,254.40 450.00,253.90 589.60,254.20 591.00,255.00 595.00,255.30 595.90,262.00 596.30,300.00 596.60,332.00 597.50,335.50 598.40,332.00 598.60,300.00 598.90,262.00 599.60,255.30 601.50,253.90 604.20,253.60 675.80,253.50" fill="none" stroke="#555" stroke-width="0.8" stroke-linejoin="round"/>
<path d="M32.70,252.00 L34.40,252.00 L34.10,254.00 L33.00,254.00 Z M33.00,256.00 L34.10,256.00 L34.40,258.00 L32.70,258.00 Z" fill="#111"/>
<line x1="33.50" y1="254.00" x2="33.50" y2="256.00" stroke="#777" stroke-width="0.5"/>
<path d="M73.60,251.30 L75.30,251.30 L75.00,253.30 L73.90,253.30 Z M73.90,255.30 L75.00,255.30 L75.30,257.30 L73.60,257.30 Z" fill="#111"/>
<line x1="74.40" y1="253.30" x2="74.40" y2="255.30" stroke="#777" stroke-width="0.5"/>
<path d="M208.10,253.00 L209.80,253.00 L209.50,255.00 L208.40,255.00 Z M208.40,257.00 L209.50,257.00 L209.80,259.00 L208.10,259.00 Z" fill="#111"/>
<line x1="208.90" y1="255.00" x2="208.90" y2="257.00" stroke="#777" stroke-width="0.5"/>
<path d="M266.80,252.50 L268.50,252.50 L268.20,254.50 L267.10,254.50 Z M267.10,256.50 L268.20,256.50 L268.50,258.50 L266.80,258.50 Z" fill="#111"/>
<line x1="267.60" y1="254.50" x2="267.60" y2="256.50" stroke="#777" stroke-width="0.5"/>
<path d="M588.80,251.60 L590.50,251.60 L590.20,253.60 L589.10,253.60 Z M589.10,255.60 L590.20,255.60 L590.50,257.60 L588.80,257.60 Z" fill="#111"/>
<line x1="589.60" y1="253.60" x2="589.60" y2="255.60" stroke="#777" stroke-width="0.5"/>
<path d="M603.40,250.80 L605.10,250.80 L604.80,252.80 L603.70,252.80 Z M603.70,254.80 L604.80,254.80 L605.10,256.80 L603.40,256.80 Z" fill="#111"/>
<line x1="604.20" y1="252.80" x2="604.20" y2="254.80" stroke="#777" stroke-width="0.5"/>
<path d="M234.00,257.00 L235.70,257.00 L235.40,259.00 L234.30,259.00 Z M234.30,261.00 L235.40,261.00 L235.70,263.00 L234.00,263.00 Z" fill="#111"/>
<line x1="234.80" y1="259.00" x2="234.80" y2="261.00" stroke="#777" stroke-width="0.5"/>
<path d="M235.80,257.00 L237.50,257.00 L237.20,259.00 L236.10,259.00 Z M236.10,261.00 L237.20,261.00 L237.50,263.00 L235.80,263.00 Z" fill="#111"/>
<line x1="236.60" y1="259.00" x2="236.60" y2="261.00" stroke="#777" stroke-width="0.5"/>
<path d="M49.60,255.40 L52.00,257.80 M52.00,255.40 L49.60,257.80" fill="none" stroke="#444" stroke-width="0.6"/>
<path d="M220.50,258.30 L223.50,261.30 M223.50,258.30 L220.50,261.30" fill="none" stroke="#444" stroke-width="0.6"/>
<path d="M251.20,263.80 L254.20,266.80 M254.20,263.80 L251.20,266.80" fill="none" stroke="#444" stroke-width="0.6"/>
<path d="M595.90,333.90 L599.10,337.10 M599.10,333.90 L595.90,337.10" fill="none" stroke="#444" stroke-width="0.6"/>
<text x="36.50" y="72.00" font-size="6.5" fill="#000" textLength="11.30" lengthAdjust="spacingAndGlyphs">Step</text>
<text x="63.50" y="72.00" font-size="6.5" fill="#000" textLength="28.60" lengthAdjust="spacingAndGlyphs">-7.8950 %</text>
<text x="63.50" y="79.00" font-size="6.5" fill="#000" textLength="30.60" lengthAdjust="spacingAndGlyphs">-0.2822 mg</text>
<text x="36.50" y="86.00" font-size="6.5" fill="#000" textLength="20.40" lengthAdjust="spacingAndGlyphs">Residue</text>
<text x="63.50" y="86.00" font-size="6.5" fill="#000" textLength="29.40" lengthAdjust="spacingAndGlyphs">91.0537 %</text>
<text x="63.50" y="93.00" font-size="6.5" fill="#000" textLength="29.30" lengthAdjust="spacingAndGlyphs">3.2545 mg</text>
<text x="233.70" y="22.00" font-size="6.5" fill="#000" textLength="11.30" lengthAdjust="spacingAndGlyphs">Step</text>
<text x="260.60" y="22.00" font-size="6.5" fill="#000" textLength="32.20" lengthAdjust="spacingAndGlyphs">-20.0361 %</text>
<text x="260.60" y="29.00" font-size="6.5" fill="#000" textLength="30.90" lengthAdjust="spacingAndGlyphs">-0.7162 mg</text>
<text x="233.70" y="36.00" font-size="6.5" fill="#000" textLength="20.40" lengthAdjust="spacingAndGlyphs">Residue</text>
<text x="260.60" y="36.00" font-size="6.5" fill="#000" textLength="30.10" lengthAdjust="spacingAndGlyphs">71.0207 %</text>
<text x="260.60" y="43.00" font-size="6.5" fill="#000" textLength="29.10" lengthAdjust="spacingAndGlyphs">2.5385 mg</text>
<text x="296.40" y="53.00" font-size="6.5" fill="#000" textLength="11.30" lengthAdjust="spacingAndGlyphs">Step</text>
<text x="323.70" y="53.00" font-size="6.5" fill="#000" textLength="32.10" lengthAdjust="spacingAndGlyphs">-42.8145 %</text>
<text x="323.70" y="60.00" font-size="6.5" fill="#000" textLength="31.60" lengthAdjust="spacingAndGlyphs">-1.5303 mg</text>
<text x="296.40" y="67.00" font-size="6.5" fill="#000" textLength="20.40" lengthAdjust="spacingAndGlyphs">Residue</text>
<text x="323.70" y="67.00" font-size="6.5" fill="#000" textLength="29.50" lengthAdjust="spacingAndGlyphs">27.8698 %</text>
<text x="323.70" y="75.00" font-size="6.5" fill="#000" textLength="29.00" lengthAdjust="spacingAndGlyphs">0.9961 mg</text>
<text x="600.90" y="69.00" font-size="6.5" fill="#000" textLength="11.30" lengthAdjust="spacingAndGlyphs">Step</text>
<text x="628.00" y="69.00" font-size="6.5" fill="#000" textLength="32.20" lengthAdjust="spacingAndGlyphs">-26.0799 %</text>
<text x="628.00" y="76.00" font-size="6.5" fill="#000" textLength="31.40" lengthAdjust="spacingAndGlyphs">-0.9322 mg</text>
<text x="600.90" y="83.00" font-size="6.5" fill="#000" textLength="20.40" lengthAdjust="spacingAndGlyphs">Residue</text>
<text x="628.00" y="83.00" font-size="6.5" fill="#000" textLength="23.60" lengthAdjust="spacingAndGlyphs">1.7899 %</text>
<text x="628.00" y="90.00" font-size="6.5" fill="#000" textLength="44.30" lengthAdjust="spacingAndGlyphs">63.9767e-03 mg</text>
<text x="34.50" y="95.00" font-size="6.5" fill="#000" textLength="13.30" lengthAdjust="spacingAndGlyphs">!CCH</text>
<text x="34.50" y="102.00" font-size="6.5" fill="#000" textLength="38.90" lengthAdjust="spacingAndGlyphs">Sample Weight</text>
<text x="34.50" y="109.00" font-size="6.5" fill="#000" textLength="44.40" lengthAdjust="spacingAndGlyphs">CCH, 3.5743 mg</text>
<text x="505.20" y="161.00" font-size="6.5" fill="#000" textLength="20.20" lengthAdjust="spacingAndGlyphs">Integral</text>
<text x="544.60" y="161.00" font-size="6.5" fill="#000" textLength="39.30" lengthAdjust="spacingAndGlyphs">18.20e+03 mJ</text>
<text x="509.10" y="168.00" font-size="6.5" fill="#000" textLength="28.80" lengthAdjust="spacingAndGlyphs">normalized</text>
<text x="544.60" y="168.00" font-size="6.5" fill="#000" textLength="39.60" lengthAdjust="spacingAndGlyphs">5092.13 Jg^-1</text>
<text x="505.20" y="175.00" font-size="6.5" fill="#000" textLength="15.70" lengthAdjust="spacingAndGlyphs">Onset</text>
<text x="544.60" y="175.00" font-size="6.5" fill="#000" textLength="27.50" lengthAdjust="spacingAndGlyphs">900.81 <tspan font-size="8.6" dy="1.3">°</tspan><tspan dy="-1.3">C</tspan></text>
<text x="505.20" y="182.00" font-size="6.5" fill="#000" textLength="12.20" lengthAdjust="spacingAndGlyphs">Peak</text>
<text x="544.60" y="182.00" font-size="6.5" fill="#000" textLength="27.50" lengthAdjust="spacingAndGlyphs">904.32 <tspan font-size="8.6" dy="1.3">°</tspan><tspan dy="-1.3">C</tspan></text>
<text x="505.20" y="189.00" font-size="6.5" fill="#000" textLength="18.20" lengthAdjust="spacingAndGlyphs">Endset</text>
<text x="544.60" y="189.00" font-size="6.5" fill="#000" textLength="27.50" lengthAdjust="spacingAndGlyphs">902.81 <tspan font-size="8.6" dy="1.3">°</tspan><tspan dy="-1.3">C</tspan></text>
<text x="32.60" y="146.00" font-size="6.5" fill="#000" textLength="13.30" lengthAdjust="spacingAndGlyphs">!CCH</text>
<text x="32.60" y="153.00" font-size="6.5" fill="#000" textLength="23.30" lengthAdjust="spacingAndGlyphs">Heatflow</text>
<text x="32.60" y="161.00" font-size="6.5" fill="#000" textLength="44.40" lengthAdjust="spacingAndGlyphs">CCH, 3.5743 mg</text>
<text x="34.20" y="272.00" font-size="6.5" fill="#000" textLength="20.20" lengthAdjust="spacingAndGlyphs">Integral</text>
<text x="73.30" y="272.00" font-size="6.5" fill="#000" textLength="24.80" lengthAdjust="spacingAndGlyphs">-0.13 mg</text>
<text x="38.10" y="279.00" font-size="6.5" fill="#000" textLength="28.80" lengthAdjust="spacingAndGlyphs">normalized</text>
<text x="73.30" y="279.00" font-size="6.5" fill="#000" textLength="29.60" lengthAdjust="spacingAndGlyphs">-36.49e-03</text>
<text x="34.20" y="286.00" font-size="6.5" fill="#000" textLength="15.70" lengthAdjust="spacingAndGlyphs">Onset</text>
<text x="73.30" y="286.00" font-size="6.5" fill="#000" textLength="24.00" lengthAdjust="spacingAndGlyphs">43.81 <tspan font-size="8.6" dy="1.3">°</tspan><tspan dy="-1.3">C</tspan></text>
<text x="34.20" y="294.00" font-size="6.5" fill="#000" textLength="12.20" lengthAdjust="spacingAndGlyphs">Peak</text>
<text x="73.30" y="294.00" font-size="6.5" fill="#000" textLength="24.00" lengthAdjust="spacingAndGlyphs">68.78 <tspan font-size="8.6" dy="1.3">°</tspan><tspan dy="-1.3">C</tspan></text>
<text x="34.20" y="301.00" font-size="6.5" fill="#000" textLength="18.20" lengthAdjust="spacingAndGlyphs">Endset</text>
<text x="73.30" y="301.00" font-size="6.5" fill="#000" textLength="24.00" lengthAdjust="spacingAndGlyphs">95.46 <tspan font-size="8.6" dy="1.3">°</tspan><tspan dy="-1.3">C</tspan></text>
<text x="157.40" y="276.00" font-size="6.5" fill="#000" textLength="20.20" lengthAdjust="spacingAndGlyphs">Integral</text>
<text x="196.60" y="276.00" font-size="6.5" fill="#000" textLength="40.20" lengthAdjust="spacingAndGlyphs">-41.98e-03 mg</text>
<text x="161.30" y="283.00" font-size="6.5" fill="#000" textLength="28.80" lengthAdjust="spacingAndGlyphs">normalized</text>
<text x="196.60" y="283.00" font-size="6.5" fill="#000" textLength="29.80" lengthAdjust="spacingAndGlyphs">-11.75e-03</text>
<text x="157.40" y="290.00" font-size="6.5" fill="#000" textLength="15.70" lengthAdjust="spacingAndGlyphs">Onset</text>
<text x="196.60" y="290.00" font-size="6.5" fill="#000" textLength="27.70" lengthAdjust="spacingAndGlyphs">248.13 <tspan font-size="8.6" dy="1.3">°</tspan><tspan dy="-1.3">C</tspan></text>
<text x="157.40" y="298.00" font-size="6.5" fill="#000" textLength="12.20" lengthAdjust="spacingAndGlyphs">Peak</text>
<text x="196.60" y="298.00" font-size="6.5" fill="#000" textLength="27.70" lengthAdjust="spacingAndGlyphs">272.85 <tspan font-size="8.6" dy="1.3">°</tspan><tspan dy="-1.3">C</tspan></text>
<text x="157.40" y="305.00" font-size="6.5" fill="#000" textLength="18.20" lengthAdjust="spacingAndGlyphs">Endset</text>
<text x="196.60" y="305.00" font-size="6.5" fill="#000" textLength="27.70" lengthAdjust="spacingAndGlyphs">295.13 <tspan font-size="8.6" dy="1.3">°</tspan><tspan dy="-1.3">C</tspan></text>
<text x="260.30" y="281.00" font-size="6.5" fill="#000" textLength="20.20" lengthAdjust="spacingAndGlyphs">Integral</text>
<text x="299.70" y="281.00" font-size="6.5" fill="#000" textLength="25.10" lengthAdjust="spacingAndGlyphs">-0.34 mg</text>
<text x="264.20" y="288.00" font-size="6.5" fill="#000" textLength="28.80" lengthAdjust="spacingAndGlyphs">normalized</text>
<text x="299.70" y="288.00" font-size="6.5" fill="#000" textLength="29.80" lengthAdjust="spacingAndGlyphs">-94.18e-03</text>
<text x="260.30" y="295.00" font-size="6.5" fill="#000" textLength="15.70" lengthAdjust="spacingAndGlyphs">Onset</text>
<text x="299.70" y="295.00" font-size="6.5" fill="#000" textLength="27.60" lengthAdjust="spacingAndGlyphs">301.51 <tspan font-size="8.6" dy="1.3">°</tspan><tspan dy="-1.3">C</tspan></text>
<text x="260.30" y="303.00" font-size="6.5" fill="#000" textLength="12.20" lengthAdjust="spacingAndGlyphs">Peak</text>
<text x="299.70" y="303.00" font-size="6.5" fill="#000" textLength="27.60" lengthAdjust="spacingAndGlyphs">327.86 <tspan font-size="8.6" dy="1.3">°</tspan><tspan dy="-1.3">C</tspan></text>
<text x="260.30" y="310.00" font-size="6.5" fill="#000" textLength="18.20" lengthAdjust="spacingAndGlyphs">Endset</text>
<text x="299.70" y="310.00" font-size="6.5" fill="#000" textLength="27.60" lengthAdjust="spacingAndGlyphs">342.55 <tspan font-size="8.6" dy="1.3">°</tspan><tspan dy="-1.3">C</tspan></text>
<text x="521.50" y="286.00" font-size="6.5" fill="#000" textLength="20.20" lengthAdjust="spacingAndGlyphs">Integral</text>
<text x="560.70" y="286.00" font-size="6.5" fill="#000" textLength="25.40" lengthAdjust="spacingAndGlyphs">-0.78 mg</text>
<text x="525.40" y="293.00" font-size="6.5" fill="#000" textLength="28.80" lengthAdjust="spacingAndGlyphs">normalized</text>
<text x="560.70" y="293.00" font-size="6.5" fill="#000" textLength="14.80" lengthAdjust="spacingAndGlyphs">-0.22</text>
<text x="521.50" y="300.00" font-size="6.5" fill="#000" textLength="15.70" lengthAdjust="spacingAndGlyphs">Onset</text>
<text x="560.70" y="300.00" font-size="6.5" fill="#000" textLength="27.30" lengthAdjust="spacingAndGlyphs">901.10 <tspan font-size="8.6" dy="1.3">°</tspan><tspan dy="-1.3">C</tspan></text>
<text x="521.50" y="308.00" font-size="6.5" fill="#000" textLength="12.20" lengthAdjust="spacingAndGlyphs">Peak</text>
<text x="560.70" y="308.00" font-size="6.5" fill="#000" textLength="27.30" lengthAdjust="spacingAndGlyphs">904.09 <tspan font-size="8.6" dy="1.3">°</tspan><tspan dy="-1.3">C</tspan></text>
<text x="521.50" y="315.00" font-size="6.5" fill="#000" textLength="18.20" lengthAdjust="spacingAndGlyphs">Endset</text>
<text x="560.70" y="315.00" font-size="6.5" fill="#000" textLength="27.30" lengthAdjust="spacingAndGlyphs">903.38 <tspan font-size="8.6" dy="1.3">°</tspan><tspan dy="-1.3">C</tspan></text>
<text x="37.00" y="321.00" font-size="6.5" fill="#000" textLength="15.80" lengthAdjust="spacingAndGlyphs">\CCH</text>
<text x="37.00" y="328.00" font-size="6.5" fill="#000" textLength="44.40" lengthAdjust="spacingAndGlyphs">CCH, 3.5743 mg</text>
</svg></body></html>
